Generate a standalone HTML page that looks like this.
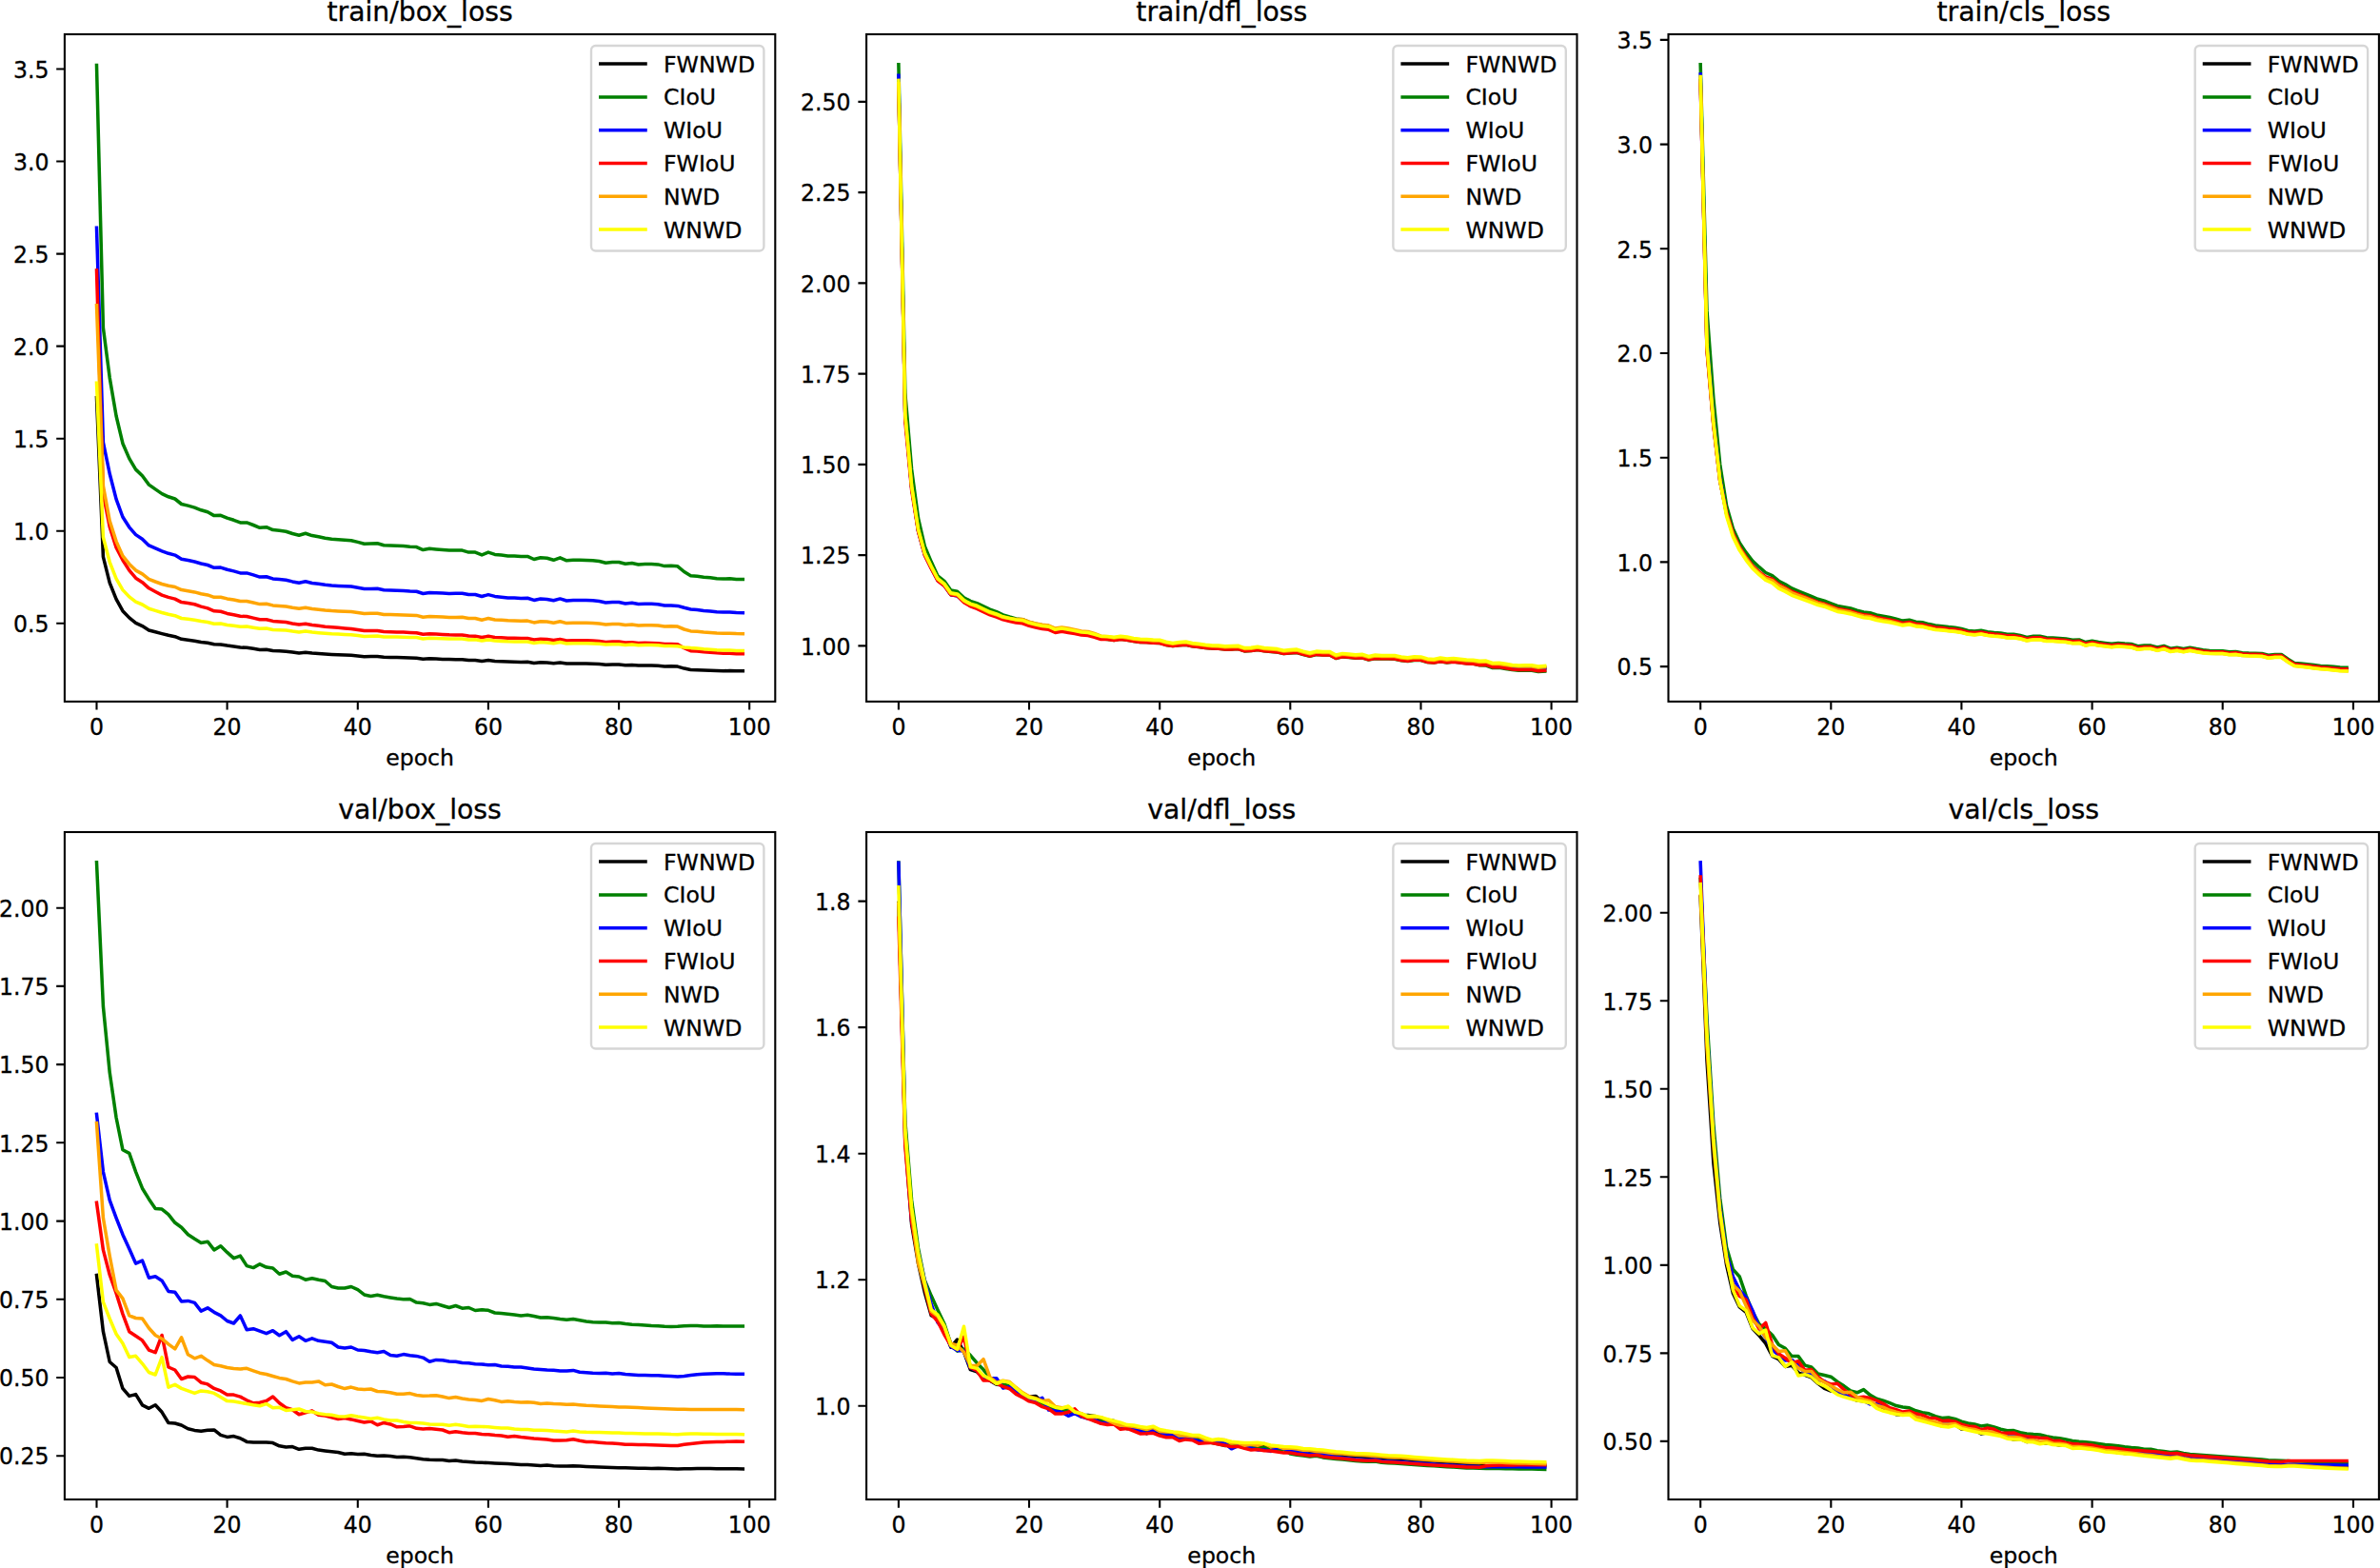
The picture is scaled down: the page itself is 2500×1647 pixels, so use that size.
<!DOCTYPE html>
<html lang="en"><head><meta charset="utf-8"><title>loss curves</title>
<style>html,body{margin:0;padding:0;background:#fff}body{width:2500px;height:1647px;overflow:hidden}svg{display:block}text{font-family:"DejaVu Sans","Liberation Sans",sans-serif;fill:#000;stroke:#000;stroke-width:0.3px}.t{font-size:23.6px}.T{font-size:28.3px}.c{fill:none;stroke-width:3.54;stroke-linejoin:round;stroke-linecap:square}.k{stroke:#000;stroke-width:2.1;fill:none}.l{stroke-width:3.54;stroke-linecap:square;fill:none}</style></head><body>
<svg width="2500" height="1647" viewBox="0 0 2500 1647">
<rect width="2500" height="1647" fill="#ffffff"/>
<g>
<clipPath id="c00"><rect x="67.9" y="36" width="746.4" height="700.9"/></clipPath>
<g clip-path="url(#c00)">
<polyline class="c" stroke="#000000" points="101.5,417.8 108.4,584.9 115.2,612.1 122.1,629.3 128.9,641.7 135.8,648.9 142.6,654.3 149.5,657.6 156.4,662 163.2,663.8 170.1,665.6 176.9,667.3 183.8,668.7 190.6,671.3 197.5,672.2 204.4,673.2 211.2,674.4 218.1,675.3 224.9,676.8 231.8,676.9 238.6,678.1 245.5,679 252.4,680.1 259.2,680.2 266.1,681.3 272.9,682.4 279.8,682.3 286.6,683.4 293.5,683.8 300.4,684.2 307.2,685.1 314.1,685.9 320.9,685.3 327.8,686.1 334.6,686.6 341.5,687.1 348.4,687.5 355.2,687.8 362.1,688 368.9,688.3 375.8,689 382.6,689.7 389.5,689.6 396.4,689.6 403.2,690.3 410.1,690.5 416.9,690.6 423.8,690.7 430.6,691 437.5,691.2 444.4,692.2 451.2,691.8 458.1,692.1 464.9,692.4 471.8,692.6 478.6,692.7 485.5,692.7 492.3,693.5 499.2,693.5 506.1,694.5 512.9,693.6 519.8,694.4 526.6,694.7 533.5,695 540.3,695.2 547.2,695.4 554.1,695.3 560.9,696.4 567.8,695.8 574.6,696.1 581.5,696.8 588.3,696 595.2,697.1 602.1,696.9 608.9,697 615.8,697.1 622.6,697.2 629.5,697.6 636.3,698.2 643.2,698 650.1,698.1 656.9,698.7 663.8,698.5 670.6,699.1 677.5,699 684.3,699 691.2,699.3 698.1,699.9 704.9,699.8 711.8,700.1 718.6,702.1 725.5,703.5 732.3,703.7 739.2,704 746.1,704.2 752.9,704.5 759.8,704.7 766.6,704.6 773.5,704.8 780.3,704.8"/>
<polyline class="c" stroke="#008000" points="101.5,68.5 108.4,344.2 115.2,396.6 122.1,437 128.9,465.7 135.8,481.6 142.6,493.1 149.5,499.7 156.4,509.1 163.2,513.9 170.1,518.6 176.9,521.8 183.8,524 190.6,529.5 197.5,531.1 204.4,533.1 211.2,535.8 218.1,537.8 224.9,541.6 231.8,541.3 238.6,544.1 245.5,546.3 252.4,548.9 259.2,548.9 266.1,551.5 272.9,554.3 279.8,553.7 286.6,556.6 293.5,557.3 300.4,558.2 307.2,560.5 314.1,562.2 320.9,560.3 327.8,562.6 334.6,563.8 341.5,565.2 348.4,566.2 355.2,566.7 362.1,567.2 368.9,567.7 375.8,569.4 382.6,571.2 389.5,570.9 396.4,570.7 403.2,572.7 410.1,573 416.9,573.3 423.8,573.6 430.6,574.2 437.5,574.6 444.4,577.6 451.2,576.3 458.1,576.9 464.9,577.5 471.8,578.1 478.6,578.1 485.5,578.1 492.3,580.1 499.2,580.1 506.1,582.9 512.9,580.1 519.8,582.4 526.6,583.1 533.5,583.9 540.3,584.1 547.2,584.6 554.1,584.4 560.9,587.5 567.8,585.7 574.6,586.3 581.5,588.3 588.3,585.8 595.2,588.8 602.1,588.3 608.9,588.3 615.8,588.4 622.6,588.7 629.5,589.5 636.3,591.3 643.2,590.5 650.1,590.5 656.9,592.3 663.8,591.4 670.6,592.9 677.5,592.5 684.3,592.5 691.2,592.9 698.1,594.6 704.9,594.2 711.8,594.8 718.6,600.5 725.5,604.7 732.3,605.2 739.2,606.2 746.1,606.8 752.9,607.7 759.8,608.1 766.6,607.8 773.5,608.4 780.3,608.4"/>
<polyline class="c" stroke="#0000ff" points="101.5,239.2 108.4,464.6 115.2,497.5 122.1,524.4 128.9,543 135.8,553.8 142.6,561.6 149.5,566.2 156.4,572.9 163.2,575.9 170.1,578.8 176.9,581.3 183.8,583.1 190.6,587.3 197.5,588.5 204.4,590 211.2,592 218.1,593.5 224.9,596.3 231.8,596.1 238.6,598.2 245.5,599.9 252.4,601.9 259.2,601.9 266.1,603.9 272.9,606.1 279.8,605.7 286.6,607.9 293.5,608.5 300.4,609.2 307.2,610.9 314.1,612.3 320.9,610.8 327.8,612.5 334.6,613.3 341.5,614.3 348.4,615 355.2,615.4 362.1,615.7 368.9,616.1 375.8,617.3 382.6,618.6 389.5,618.4 396.4,618.3 403.2,619.8 410.1,620 416.9,620.3 423.8,620.5 430.6,621 437.5,621.3 444.4,623.5 451.2,622.5 458.1,622.8 464.9,623.1 471.8,623.4 478.6,623.3 485.5,623.2 492.3,624.6 499.2,624.5 506.1,626.5 512.9,624.6 519.8,626.4 526.6,627.2 533.5,628 540.3,628 547.2,628.4 554.1,628.2 560.9,630.4 567.8,629 574.6,629.4 581.5,630.8 588.3,628.9 595.2,631 602.1,630.6 608.9,630.6 615.8,630.6 622.6,630.8 629.5,631.5 636.3,632.9 643.2,632.4 650.1,632.5 656.9,633.9 663.8,633.3 670.6,634.5 677.5,634.2 684.3,634.3 691.2,634.8 698.1,636.1 704.9,635.9 711.8,636.4 718.6,638.3 725.5,640 732.3,640.5 739.2,641.4 746.1,641.9 752.9,642.7 759.8,643.1 766.6,643 773.5,643.6 780.3,643.7"/>
<polyline class="c" stroke="#ff0000" points="101.5,283.9 108.4,518.9 115.2,553.4 122.1,575.2 128.9,588.2 135.8,599.1 142.6,607.2 149.5,611.7 156.4,617.8 163.2,621.5 170.1,625.1 176.9,627.4 183.8,629.1 190.6,632.6 197.5,633.6 204.4,634.8 211.2,637.1 218.1,638.9 224.9,641.8 231.8,642.3 238.6,644.4 245.5,645.8 252.4,647.3 259.2,647.5 266.1,649.1 272.9,650.8 279.8,650.7 286.6,652.4 293.5,652.9 300.4,653.6 307.2,655 314.1,656.1 320.9,655.3 327.8,656.6 334.6,657.3 341.5,658.2 348.4,658.8 355.2,659.3 362.1,659.9 368.9,660.4 375.8,661.5 382.6,662.6 389.5,662.5 396.4,662.5 403.2,663.5 410.1,663.7 416.9,663.9 423.8,664.1 430.6,664.4 437.5,664.7 444.4,666.2 451.2,665.7 458.1,666 464.9,666.4 471.8,666.8 478.6,666.9 485.5,667 492.3,668.1 499.2,668.2 506.1,669.6 512.9,668.3 519.8,669.4 526.6,669.8 533.5,670.2 540.3,670.3 547.2,670.6 554.1,670.6 560.9,672.1 567.8,671.2 574.6,671.6 581.5,672.6 588.3,671.4 595.2,672.9 602.1,672.7 608.9,672.7 615.8,672.8 622.6,673 629.5,673.5 636.3,674.4 643.2,674.1 650.1,674.1 656.9,675.1 663.8,674.7 670.6,675.5 677.5,675.3 684.3,675.4 691.2,675.7 698.1,676.5 704.9,676.4 711.8,676.8 718.6,680.7 725.5,683.7 732.3,684.1 739.2,684.8 746.1,685.2 752.9,685.8 759.8,686.2 766.6,686.2 773.5,686.7 780.3,686.8"/>
<polyline class="c" stroke="#ffa500" points="101.5,320.8 108.4,510.2 115.2,547 122.1,568.6 128.9,583.9 135.8,592.4 142.6,599.1 149.5,602.9 156.4,608.3 163.2,611 170.1,613.5 176.9,615.3 183.8,616.5 190.6,619.6 197.5,620.7 204.4,621.9 211.2,623.7 218.1,624.9 224.9,627.3 231.8,627.2 238.6,628.9 245.5,630.1 252.4,631.6 259.2,631.5 266.1,633 272.9,634.6 279.8,634.2 286.6,635.9 293.5,636.4 300.4,636.9 307.2,638.2 314.1,639.3 320.9,638.2 327.8,639.5 334.6,640.2 341.5,641 348.4,641.6 355.2,641.9 362.1,642.2 368.9,642.5 375.8,643.4 382.6,644.5 389.5,644.3 396.4,644.2 403.2,645.4 410.1,645.6 416.9,645.7 423.8,645.9 430.6,646.2 437.5,646.4 444.4,648.2 451.2,647.4 458.1,647.7 464.9,648.1 471.8,648.4 478.6,648.4 485.5,648.3 492.3,649.5 499.2,649.5 506.1,651.2 512.9,649.5 519.8,650.9 526.6,651.3 533.5,651.8 540.3,651.9 547.2,652.2 554.1,652.1 560.9,653.9 567.8,652.8 574.6,653.1 581.5,654.3 588.3,652.8 595.2,654.6 602.1,654.3 608.9,654.3 615.8,654.3 622.6,654.5 629.5,655 636.3,656 643.2,655.6 650.1,655.5 656.9,656.6 663.8,656.1 670.6,657 677.5,656.7 684.3,656.7 691.2,657 698.1,658 704.9,657.7 711.8,658.1 718.6,661 725.5,662.9 732.3,663.3 739.2,664 746.1,664.4 752.9,665 759.8,665.3 766.6,665.2 773.5,665.6 780.3,665.7"/>
<polyline class="c" stroke="#ffff00" points="101.5,402.3 108.4,564.3 115.2,590.3 122.1,607.8 128.9,619.6 135.8,626.9 142.6,632.1 149.5,635 156.4,639.3 163.2,641.4 170.1,643.5 176.9,645.3 183.8,646.7 190.6,649.5 197.5,650.3 204.4,651.2 211.2,652.5 218.1,653.5 224.9,655.3 231.8,655.1 238.6,656.5 245.5,657.3 252.4,658.3 259.2,658.1 266.1,659.2 272.9,660.3 279.8,660 286.6,661.4 293.5,661.7 300.4,662 307.2,663.1 314.1,663.9 320.9,663 327.8,664.1 334.6,664.7 341.5,665.3 348.4,665.8 355.2,666.1 362.1,666.4 368.9,666.7 375.8,667.5 382.6,668.4 389.5,668.2 396.4,668.1 403.2,668.9 410.1,669 416.9,669.1 423.8,669.2 430.6,669.4 437.5,669.6 444.4,670.9 451.2,670.3 458.1,670.5 464.9,670.8 471.8,671 478.6,671 485.5,670.9 492.3,671.9 499.2,671.8 506.1,673.1 512.9,671.9 519.8,673 526.6,673.4 533.5,673.8 540.3,673.9 547.2,674.1 554.1,674 560.9,675.4 567.8,674.6 574.6,674.9 581.5,675.8 588.3,674.6 595.2,676 602.1,675.7 608.9,675.7 615.8,675.7 622.6,675.9 629.5,676.3 636.3,677.1 643.2,676.7 650.1,676.7 656.9,677.5 663.8,677.1 670.6,677.8 677.5,677.6 684.3,677.6 691.2,677.8 698.1,678.5 704.9,678.4 711.8,678.7 718.6,679.9 725.5,680.6 732.3,681 739.2,681.7 746.1,682.2 752.9,682.8 759.8,683 766.6,683 773.5,683.4 780.3,683.5"/>
</g>
<path class="k" d="M101.5 736.9v8.7M238.6 736.9v8.7M375.8 736.9v8.7M512.9 736.9v8.7M650.1 736.9v8.7M787.2 736.9v8.7M67.9 654.8h-8.7M67.9 557.7h-8.7M67.9 460.7h-8.7M67.9 363.6h-8.7M67.9 266.6h-8.7M67.9 169.5h-8.7M67.9 72.5h-8.7"/>
<rect class="k" x="67.9" y="36" width="746.4" height="700.9"/>
<text class="t" text-anchor="middle" transform="translate(101.5 771.8) scale(1 1.07)">0</text>
<text class="t" text-anchor="middle" transform="translate(238.6 771.8) scale(1 1.07)">20</text>
<text class="t" text-anchor="middle" transform="translate(375.8 771.8) scale(1 1.07)">40</text>
<text class="t" text-anchor="middle" transform="translate(512.9 771.8) scale(1 1.07)">60</text>
<text class="t" text-anchor="middle" transform="translate(650.1 771.8) scale(1 1.07)">80</text>
<text class="t" text-anchor="middle" transform="translate(787.2 771.8) scale(1 1.07)">100</text>
<text class="t" text-anchor="end" transform="translate(51.4 664) scale(1 1.07)">0.5</text>
<text class="t" text-anchor="end" transform="translate(51.4 566.9) scale(1 1.07)">1.0</text>
<text class="t" text-anchor="end" transform="translate(51.4 469.9) scale(1 1.07)">1.5</text>
<text class="t" text-anchor="end" transform="translate(51.4 372.8) scale(1 1.07)">2.0</text>
<text class="t" text-anchor="end" transform="translate(51.4 275.8) scale(1 1.07)">2.5</text>
<text class="t" text-anchor="end" transform="translate(51.4 178.7) scale(1 1.07)">3.0</text>
<text class="t" text-anchor="end" transform="translate(51.4 81.7) scale(1 1.07)">3.5</text>
<text class="t" text-anchor="middle" x="441.1" y="804">epoch</text>
<text class="T" text-anchor="middle" x="441.1" y="22">train/box_loss</text>
<rect x="621" y="48" width="181.4" height="215.5" rx="4.7" ry="4.7" fill="#ffffff" fill-opacity="0.8" stroke="#cccccc" stroke-opacity="0.8" stroke-width="2.36"/>
<path class="l" stroke="#000000" d="M630.8 67.1h47.2"/>
<text class="t" x="697" y="75.6">FWNWD</text>
<path class="l" stroke="#008000" d="M630.8 101.9h47.2"/>
<text class="t" x="697" y="110.4">CIoU</text>
<path class="l" stroke="#0000ff" d="M630.8 136.7h47.2"/>
<text class="t" x="697" y="145.2">WIoU</text>
<path class="l" stroke="#ff0000" d="M630.8 171.4h47.2"/>
<text class="t" x="697" y="179.9">FWIoU</text>
<path class="l" stroke="#ffa500" d="M630.8 206.2h47.2"/>
<text class="t" x="697" y="214.7">NWD</text>
<path class="l" stroke="#ffff00" d="M630.8 241h47.2"/>
<text class="t" x="697" y="249.5">WNWD</text>
</g>
<g>
<clipPath id="c10"><rect x="910.1" y="36" width="746.4" height="700.9"/></clipPath>
<g clip-path="url(#c10)">
<polyline class="c" stroke="#000000" points="943.9,89.6 950.8,436.1 957.6,511.6 964.5,557.1 971.3,582.1 978.2,596.2 985,609.2 991.9,614.6 998.8,624.4 1005.6,625.5 1012.5,632 1019.3,635.7 1026.2,637.9 1033,641.1 1039.9,644.4 1046.8,646.6 1053.6,649.4 1060.5,651.1 1067.3,652.6 1074.2,653.3 1081,655.9 1087.9,657.6 1094.8,659.1 1101.6,659.8 1108.5,662.9 1115.3,661.7 1122.2,662.9 1129,664.1 1135.9,665.6 1142.8,666.1 1149.6,667.8 1156.5,670.1 1163.3,670.1 1170.2,671 1177,669.9 1183.9,670.8 1190.8,672.1 1197.6,672.9 1204.5,673.2 1211.3,673.7 1218.2,673.9 1225,675.9 1231.9,677 1238.8,676.2 1245.6,675.7 1252.5,677.2 1259.3,677.9 1266.2,678.9 1273,679.6 1279.9,679.8 1286.8,680.5 1293.6,680.3 1300.5,680 1307.3,682.3 1314.2,682 1321,680.9 1327.9,682.2 1334.7,682.8 1341.6,683.3 1348.5,685 1355.3,684.2 1362.2,683.9 1369,685.8 1375.9,687.5 1382.7,685.8 1389.6,686.4 1396.5,686.2 1403.3,689.8 1410.2,688.1 1417,688.7 1423.9,689.5 1430.7,689.1 1437.6,691.2 1444.5,689.9 1451.3,690.2 1458.2,690.2 1465,690.4 1471.9,691.8 1478.7,692.6 1485.6,691.5 1492.5,691.7 1499.3,693.7 1506.2,694.3 1513,692.9 1519.9,694 1526.7,693.2 1533.6,694.1 1540.5,694.9 1547.3,695 1554.2,696.2 1561,695.9 1567.9,698.3 1574.7,698.1 1581.6,699.2 1588.5,700.3 1595.3,700.9 1602.2,700.7 1609,700.7 1615.9,702 1622.7,701.5"/>
<polyline class="c" stroke="#008000" points="943.9,67.7 950.8,412.8 957.6,493 964.5,544.2 971.3,573.7 978.2,590.1 985,605 991.9,610.4 998.8,620.1 1005.6,621.2 1012.5,627.7 1019.3,631.4 1026.2,633.6 1033,636.9 1039.9,640.1 1046.8,642.7 1053.6,645.9 1060.5,648 1067.3,649.9 1074.2,650.7 1081,653.4 1087.9,655.2 1094.8,656.8 1101.6,657.6 1108.5,660.8 1115.3,659.8 1122.2,661 1129,662.4 1135.9,664 1142.8,665.3 1149.6,667.7 1156.5,670.7 1163.3,671.5 1170.2,672.4 1177,671.3 1183.9,672.2 1190.8,673.5 1197.6,674.4 1204.5,674.6 1211.3,675.2 1218.2,675.4 1225,677.4 1231.9,678.5 1238.8,677.7 1245.6,677.2 1252.5,678.8 1259.3,679.5 1266.2,680.4 1273,681.1 1279.9,681.3 1286.8,682.1 1293.6,681.9 1300.5,681.6 1307.3,683.9 1314.2,683.6 1321,682.5 1327.9,683.8 1334.7,684.4 1341.6,685 1348.5,686.6 1355.3,685.9 1362.2,685.5 1369,687.5 1375.9,689.2 1382.7,687.6 1389.6,688.1 1396.5,687.9 1403.3,691.5 1410.2,689.9 1417,690.4 1423.9,691.3 1430.7,690.9 1437.6,693 1444.5,691.7 1451.3,692 1458.2,692 1465,692.3 1471.9,693.7 1478.7,694.5 1485.6,693.4 1492.5,693.6 1499.3,695.6 1506.2,696.1 1513,694.8 1519.9,695.9 1526.7,695.1 1533.6,696 1540.5,696.8 1547.3,697 1554.2,698.7 1561,699 1567.9,701.5 1574.7,701.3 1581.6,702.5 1588.5,703.6 1595.3,704.2 1602.2,704.1 1609,704.2 1615.9,705.5 1622.7,705.1"/>
<polyline class="c" stroke="#0000ff" points="943.9,79.3 950.8,436.5 957.6,512 964.5,557.5 971.3,582.5 978.2,596.6 985,609.6 991.9,615 998.8,624.7 1005.6,625.9 1012.5,632.3 1019.3,636 1026.2,638.3 1033,641.5 1039.9,644.8 1046.8,646.9 1053.6,649.8 1060.5,651.5 1067.3,653 1074.2,653.7 1081,656.3 1087.9,658 1094.8,659.5 1101.6,660.2 1108.5,663.3 1115.3,662.1 1122.2,663.3 1129,664.5 1135.9,666 1142.8,666.5 1149.6,668.2 1156.5,670.4 1163.3,670.5 1170.2,671.4 1177,670.3 1183.9,671.1 1190.8,672.5 1197.6,673.3 1204.5,673.6 1211.3,674.1 1218.2,674.3 1225,676.3 1231.9,677.4 1238.8,676.5 1245.6,676.1 1252.5,677.6 1259.3,678.3 1266.2,679.3 1273,680 1279.9,680.2 1286.8,680.9 1293.6,680.7 1300.5,680.4 1307.3,682.7 1314.2,682.4 1321,681.3 1327.9,682.6 1334.7,683.2 1341.6,683.7 1348.5,685.3 1355.3,684.6 1362.2,684.2 1369,686.2 1375.9,687.9 1382.7,686.2 1389.6,686.8 1396.5,686.6 1403.3,690.2 1410.2,688.5 1417,689.1 1423.9,689.9 1430.7,689.5 1437.6,691.6 1444.5,690.3 1451.3,690.6 1458.2,690.6 1465,690.8 1471.9,692.2 1478.7,693 1485.6,691.9 1492.5,692.1 1499.3,694.1 1506.2,694.6 1513,693.2 1519.9,694.3 1526.7,693.6 1533.6,694.5 1540.5,695.2 1547.3,695.4 1554.2,696.5 1561,696.3 1567.9,698.7 1574.7,698.5 1581.6,699.6 1588.5,700.7 1595.3,701.2 1602.2,701.1 1609,701.1 1615.9,702.4 1622.7,701.8"/>
<polyline class="c" stroke="#ff0000" points="943.9,88.9 950.8,442.2 957.6,514.7 964.5,558.3 971.3,583.1 978.2,597.1 985,610 991.9,615.3 998.8,624.8 1005.6,625.8 1012.5,632.7 1019.3,636.8 1026.2,639.3 1033,642.6 1039.9,645.9 1046.8,648.1 1053.6,650.9 1060.5,652.6 1067.3,654.1 1074.2,654.8 1081,657.4 1087.9,659.1 1094.8,660.6 1101.6,661.3 1108.5,664.4 1115.3,663.2 1122.2,664.4 1129,665.6 1135.9,667.1 1142.8,667.6 1149.6,669.4 1156.5,671.6 1163.3,671.6 1170.2,672.5 1177,671.4 1183.9,672.3 1190.8,673.6 1197.6,674.5 1204.5,674.7 1211.3,675.3 1218.2,675.5 1225,677.5 1231.9,678.6 1238.8,677.7 1245.6,677.2 1252.5,678.8 1259.3,679.5 1266.2,680.4 1273,681.1 1279.9,681.3 1286.8,682.1 1293.6,681.9 1300.5,681.6 1307.3,683.8 1314.2,683.6 1321,682.5 1327.9,683.8 1334.7,684.3 1341.6,684.9 1348.5,686.5 1355.3,685.8 1362.2,685.4 1369,687.4 1375.9,689 1382.7,687.4 1389.6,688 1396.5,687.8 1403.3,691.4 1410.2,689.7 1417,690.3 1423.9,691.1 1430.7,690.7 1437.6,692.8 1444.5,691.5 1451.3,691.8 1458.2,691.8 1465,692 1471.9,693.4 1478.7,694.2 1485.6,693.1 1492.5,693.3 1499.3,695.4 1506.2,696 1513,694.7 1519.9,695.8 1526.7,695.2 1533.6,696.1 1540.5,697 1547.3,697.2 1554.2,698.4 1561,698.3 1567.9,700.7 1574.7,700.6 1581.6,701.7 1588.5,702.9 1595.3,703.5 1602.2,703.4 1609,703.4 1615.9,704.8 1622.7,704.3"/>
<polyline class="c" stroke="#ffa500" points="943.9,87.7 950.8,435.3 957.6,510.9 964.5,556.4 971.3,581.4 978.2,595.5 985,608.4 991.9,613.9 998.8,623.6 1005.6,624.7 1012.5,631.2 1019.3,634.9 1026.2,637.1 1033,640.3 1039.9,643.6 1046.8,645.7 1053.6,648.6 1060.5,649.6 1067.3,650.5 1074.2,650.6 1081,653.1 1087.9,654.9 1094.8,656.3 1101.6,657.1 1108.5,660.1 1115.3,659 1122.2,660.1 1129,661.4 1135.9,662.9 1142.8,663.4 1149.6,665.5 1156.5,668.2 1163.3,668.7 1170.2,670.1 1177,669 1183.9,669.9 1190.8,671.2 1197.6,672.1 1204.5,672.3 1211.3,672.9 1218.2,673.1 1225,675.1 1231.9,676.2 1238.8,675.3 1245.6,674.8 1252.5,676.4 1259.3,677.1 1266.2,678 1273,678.7 1279.9,678.9 1286.8,679.7 1293.6,679.5 1300.5,679.2 1307.3,681.4 1314.2,681.2 1321,680.1 1327.9,681.4 1334.7,681.9 1341.6,682.5 1348.5,684.1 1355.3,683.4 1362.2,683 1369,685 1375.9,686.7 1382.7,685 1389.6,685.6 1396.5,685.4 1403.3,689 1410.2,687.3 1417,687.9 1423.9,688.7 1430.7,688.3 1437.6,690.4 1444.5,689.1 1451.3,689.4 1458.2,689.4 1465,689.6 1471.9,691 1478.7,691.8 1485.6,690.7 1492.5,690.9 1499.3,692.9 1506.2,693.5 1513,692.1 1519.9,693.2 1526.7,692.4 1533.6,693.3 1540.5,694.1 1547.3,694.3 1554.2,695.4 1561,695.2 1567.9,697.6 1574.7,697.4 1581.6,698.4 1588.5,699.6 1595.3,700.1 1602.2,699.9 1609,699.9 1615.9,701.2 1622.7,700.7"/>
<polyline class="c" stroke="#ffff00" points="943.9,84.4 950.8,434.6 957.6,510.1 964.5,555.6 971.3,580.6 978.2,594.7 985,607.7 991.9,613.1 998.8,622.8 1005.6,623.9 1012.5,630.4 1019.3,634.1 1026.2,636.3 1033,639.5 1039.9,642.8 1046.8,645 1053.6,647.8 1060.5,649.5 1067.3,651 1074.2,651.7 1081,654.3 1087.9,656 1094.8,657.5 1101.6,658.2 1108.5,661.3 1115.3,660.1 1122.2,661.3 1129,662.5 1135.9,664 1142.8,664.5 1149.6,666.2 1156.5,668.4 1163.3,668.5 1170.2,669.3 1177,668.2 1183.9,669.1 1190.8,670.4 1197.6,671.3 1204.5,671.5 1211.3,672.1 1218.2,672.3 1225,674.2 1231.9,675.4 1238.8,674.5 1245.6,674 1252.5,675.5 1259.3,676.2 1266.2,677.2 1273,677.9 1279.9,678.1 1286.8,678.8 1293.6,678.6 1300.5,678.3 1307.3,680.6 1314.2,680.3 1321,679.2 1327.9,680.5 1334.7,681 1341.6,681.6 1348.5,683.2 1355.3,682.4 1362.2,682.1 1369,684.1 1375.9,685.7 1382.7,684.1 1389.6,684.6 1396.5,684.4 1403.3,688 1410.2,686.4 1417,686.9 1423.9,687.7 1430.7,687.3 1437.6,689.4 1444.5,688.1 1451.3,688.4 1458.2,688.4 1465,688.6 1471.9,690 1478.7,690.8 1485.6,689.7 1492.5,689.9 1499.3,691.9 1506.2,692.4 1513,691 1519.9,692.1 1526.7,691.4 1533.6,692.2 1540.5,693 1547.3,693.2 1554.2,694.3 1561,694.1 1567.9,696.5 1574.7,696.3 1581.6,697.3 1588.5,698.4 1595.3,699 1602.2,698.8 1609,698.8 1615.9,700.1 1622.7,699.5"/>
</g>
<path class="k" d="M943.9 736.9v8.7M1081 736.9v8.7M1218.2 736.9v8.7M1355.3 736.9v8.7M1492.5 736.9v8.7M1629.6 736.9v8.7M910.1 678.4h-8.7M910.1 583.1h-8.7M910.1 487.9h-8.7M910.1 392.6h-8.7M910.1 297.4h-8.7M910.1 202.1h-8.7M910.1 106.9h-8.7"/>
<rect class="k" x="910.1" y="36" width="746.4" height="700.9"/>
<text class="t" text-anchor="middle" transform="translate(943.9 771.8) scale(1 1.07)">0</text>
<text class="t" text-anchor="middle" transform="translate(1081 771.8) scale(1 1.07)">20</text>
<text class="t" text-anchor="middle" transform="translate(1218.2 771.8) scale(1 1.07)">40</text>
<text class="t" text-anchor="middle" transform="translate(1355.3 771.8) scale(1 1.07)">60</text>
<text class="t" text-anchor="middle" transform="translate(1492.5 771.8) scale(1 1.07)">80</text>
<text class="t" text-anchor="middle" transform="translate(1629.6 771.8) scale(1 1.07)">100</text>
<text class="t" text-anchor="end" transform="translate(893.6 687.6) scale(1 1.07)">1.00</text>
<text class="t" text-anchor="end" transform="translate(893.6 592.4) scale(1 1.07)">1.25</text>
<text class="t" text-anchor="end" transform="translate(893.6 497.1) scale(1 1.07)">1.50</text>
<text class="t" text-anchor="end" transform="translate(893.6 401.8) scale(1 1.07)">1.75</text>
<text class="t" text-anchor="end" transform="translate(893.6 306.6) scale(1 1.07)">2.00</text>
<text class="t" text-anchor="end" transform="translate(893.6 211.3) scale(1 1.07)">2.25</text>
<text class="t" text-anchor="end" transform="translate(893.6 116.1) scale(1 1.07)">2.50</text>
<text class="t" text-anchor="middle" x="1283.3" y="804">epoch</text>
<text class="T" text-anchor="middle" x="1283.3" y="22">train/dfl_loss</text>
<rect x="1463.4" y="48" width="181.4" height="215.5" rx="4.7" ry="4.7" fill="#ffffff" fill-opacity="0.8" stroke="#cccccc" stroke-opacity="0.8" stroke-width="2.36"/>
<path class="l" stroke="#000000" d="M1473.2 67.1h47.2"/>
<text class="t" x="1539.4" y="75.6">FWNWD</text>
<path class="l" stroke="#008000" d="M1473.2 101.9h47.2"/>
<text class="t" x="1539.4" y="110.4">CIoU</text>
<path class="l" stroke="#0000ff" d="M1473.2 136.7h47.2"/>
<text class="t" x="1539.4" y="145.2">WIoU</text>
<path class="l" stroke="#ff0000" d="M1473.2 171.4h47.2"/>
<text class="t" x="1539.4" y="179.9">FWIoU</text>
<path class="l" stroke="#ffa500" d="M1473.2 206.2h47.2"/>
<text class="t" x="1539.4" y="214.7">NWD</text>
<path class="l" stroke="#ffff00" d="M1473.2 241h47.2"/>
<text class="t" x="1539.4" y="249.5">WNWD</text>
</g>
<g>
<clipPath id="c20"><rect x="1752.5" y="36" width="746.4" height="700.9"/></clipPath>
<g clip-path="url(#c20)">
<polyline class="c" stroke="#000000" points="1786.2,84.7 1793,366.1 1799.9,446 1806.7,504.9 1813.6,539.2 1820.4,561.3 1827.3,575.8 1834.1,586.1 1841,595.1 1847.9,601.6 1854.7,607 1861.6,609.5 1868.4,615 1875.3,618.4 1882.1,622.5 1889,625.2 1895.9,627.9 1902.7,630.6 1909.6,633.3 1916.4,635.1 1923.3,637.6 1930.1,640.2 1937,641.5 1943.9,642.8 1950.7,644.8 1957.6,646.6 1964.4,647.3 1971.3,649.4 1978.1,650.6 1985,651.8 1991.9,653.4 1998.7,655.2 2005.6,654.2 2012.4,656.1 2019.3,656.6 2026.1,658.3 2033,659.8 2039.9,660.2 2046.7,661.1 2053.6,661.7 2060.4,662.8 2067.3,664.7 2074.1,665.3 2081,664.5 2087.9,665.9 2094.7,666.8 2101.6,667.3 2108.4,668.5 2115.3,668.5 2122.1,669.6 2129,671.5 2135.9,670.4 2142.7,670.4 2149.6,672 2156.4,672.1 2163.3,672.6 2170.1,673.1 2177,674.3 2183.9,674 2190.7,676.7 2197.6,675.4 2204.4,676.7 2211.3,677.5 2218.1,678.3 2225,677.6 2231.9,678.1 2238.7,678.6 2245.6,680.8 2252.4,680.2 2259.3,680.1 2266.1,682 2273,680.4 2279.9,683.1 2286.7,682 2293.6,683.4 2300.4,682.1 2307.3,683.4 2314.1,684.6 2321,685.1 2327.9,685.4 2334.7,685.4 2341.6,686.5 2348.4,686.2 2355.3,687.4 2362.1,687.8 2369,687.9 2375.9,688.1 2382.7,689.9 2389.6,689.2 2396.4,689.1 2403.3,694 2410.1,698.2 2417,698.9 2423.9,699.7 2430.7,700.5 2437.6,701.4 2444.4,701.9 2451.3,702.5 2458.1,703.2 2465,703.4"/>
<polyline class="c" stroke="#008000" points="1786.2,67.8 1793,326.4 1799.9,418.8 1806.7,487.7 1813.6,531.3 1820.4,555.3 1827.3,570.2 1834.1,580.4 1841,589.3 1847.9,595.7 1854.7,601.5 1861.6,604.6 1868.4,610.2 1875.3,613.8 1882.1,618 1889,620.8 1895.9,623.6 1902.7,626.5 1909.6,629.3 1916.4,631.2 1923.3,633.8 1930.1,636.4 1937,637.7 1943.9,639 1950.7,641.1 1957.6,643 1964.4,643.8 1971.3,645.9 1978.1,647.2 1985,648.4 1991.9,650.2 1998.7,652.1 2005.6,651.2 2012.4,653.2 2019.3,653.8 2026.1,655.6 2033,657.1 2039.9,657.7 2046.7,658.6 2053.6,659.3 2060.4,660.5 2067.3,662.4 2074.1,663 2081,662.3 2087.9,663.7 2094.7,664.6 2101.6,665.1 2108.4,666.3 2115.3,666.3 2122.1,667.4 2129,669.4 2135.9,668.3 2142.7,668.3 2149.6,669.8 2156.4,670 2163.3,670.5 2170.1,671 2177,672.2 2183.9,671.9 2190.7,674.6 2197.6,673.3 2204.4,674.6 2211.3,675.4 2218.1,676.3 2225,675.5 2231.9,676.1 2238.7,676.5 2245.6,678.8 2252.4,678.1 2259.3,678.1 2266.1,680 2273,678.4 2279.9,681.2 2286.7,680.2 2293.6,681.5 2300.4,680.2 2307.3,681.6 2314.1,682.8 2321,683.4 2327.9,683.7 2334.7,683.7 2341.6,684.8 2348.4,684.5 2355.3,685.7 2362.1,686.1 2369,686.2 2375.9,686.4 2382.7,688.2 2389.6,687.5 2396.4,687.4 2403.3,692.3 2410.1,696.4 2417,697.1 2423.9,697.8 2430.7,698.6 2437.6,699.4 2444.4,699.8 2451.3,700.3 2458.1,701 2465,701.2"/>
<polyline class="c" stroke="#0000ff" points="1786.2,77.9 1793,359.3 1799.9,440.7 1806.7,501.9 1813.6,538.8 1820.4,561 1827.3,575.4 1834.1,585.8 1841,594.8 1847.9,601.3 1854.7,606.6 1861.6,609.1 1868.4,614.5 1875.3,618 1882.1,622.1 1889,624.8 1895.9,627.5 1902.7,630.3 1909.6,633 1916.4,634.8 1923.3,637.3 1930.1,639.9 1937,641.2 1943.9,642.4 1950.7,644.5 1957.6,646.3 1964.4,647 1971.3,649.1 1978.1,650.3 1985,651.5 1991.9,653.1 1998.7,654.9 2005.6,653.9 2012.4,655.8 2019.3,656.4 2026.1,658.1 2033,659.5 2039.9,660 2046.7,660.9 2053.6,661.5 2060.4,662.6 2067.3,664.5 2074.1,665 2081,664.3 2087.9,665.7 2094.7,666.5 2101.6,667.1 2108.4,668.2 2115.3,668.2 2122.1,669.4 2129,671.3 2135.9,670.2 2142.7,670.2 2149.6,671.8 2156.4,671.9 2163.3,672.4 2170.1,672.9 2177,674.1 2183.9,673.8 2190.7,676.5 2197.6,675.2 2204.4,676.5 2211.3,677.3 2218.1,678.1 2225,677.4 2231.9,677.9 2238.7,678.4 2245.6,680.6 2252.4,680 2259.3,679.9 2266.1,681.8 2273,680.2 2279.9,682.9 2286.7,681.8 2293.6,683.2 2300.4,681.9 2307.3,683.2 2314.1,684.4 2321,685 2327.9,685.2 2334.7,685.2 2341.6,686.3 2348.4,686 2355.3,687.2 2362.1,687.6 2369,687.7 2375.9,687.9 2382.7,689.7 2389.6,689 2396.4,689 2403.3,693.9 2410.1,698 2417,698.7 2423.9,699.5 2430.7,700.3 2437.6,701.2 2444.4,701.7 2451.3,702.3 2458.1,703 2465,703.2"/>
<polyline class="c" stroke="#ff0000" points="1786.2,86.9 1793,368.1 1799.9,447.3 1806.7,505.2 1813.6,537.9 1820.4,560.2 1827.3,574.8 1834.1,585.1 1841,594.2 1847.9,600.7 1854.7,605.9 1861.6,608.2 1868.4,613.6 1875.3,617.2 1882.1,621.2 1889,624 1895.9,626.8 1902.7,629.6 1909.6,632.4 1916.4,634.2 1923.3,636.7 1930.1,639.3 1937,640.6 1943.9,641.8 1950.7,643.9 1957.6,645.6 1964.4,646.4 1971.3,648.5 1978.1,649.7 1985,650.9 1991.9,652.5 1998.7,654.4 2005.6,653.4 2012.4,655.3 2019.3,655.9 2026.1,657.6 2033,659 2039.9,659.5 2046.7,660.4 2053.6,661 2060.4,662.1 2067.3,664 2074.1,664.6 2081,663.9 2087.9,665.2 2094.7,666.1 2101.6,666.7 2108.4,667.8 2115.3,667.8 2122.1,668.9 2129,670.9 2135.9,669.8 2142.7,669.8 2149.6,671.3 2156.4,671.5 2163.3,672 2170.1,672.5 2177,673.7 2183.9,673.3 2190.7,676.1 2197.6,674.8 2204.4,676.1 2211.3,676.9 2218.1,677.7 2225,677 2231.9,677.5 2238.7,678 2245.6,680.2 2252.4,679.6 2259.3,679.5 2266.1,681.4 2273,679.8 2279.9,682.5 2286.7,681.5 2293.6,682.8 2300.4,681.5 2307.3,682.8 2314.1,684 2321,684.6 2327.9,684.8 2334.7,684.8 2341.6,686 2348.4,685.6 2355.3,686.8 2362.1,687.3 2369,687.3 2375.9,687.5 2382.7,689.4 2389.6,688.6 2396.4,688.6 2403.3,693.5 2410.1,697.6 2417,698.4 2423.9,699.1 2430.7,699.9 2437.6,700.8 2444.4,701.3 2451.3,701.9 2458.1,702.6 2465,702.8"/>
<polyline class="c" stroke="#ffa500" points="1786.2,82.5 1793,365.9 1799.9,446 1806.7,504.8 1813.6,540.1 1820.4,562 1827.3,576.1 1834.1,586.4 1841,595.5 1847.9,602 1854.7,607.3 1861.6,609.7 1868.4,615.1 1875.3,618.6 1882.1,622.6 1889,625.3 1895.9,628 1902.7,630.7 1909.6,633.4 1916.4,635.3 1923.3,637.8 1930.1,640.5 1937,641.8 1943.9,643.1 1950.7,645.2 1957.6,647 1964.4,647.8 1971.3,649.9 1978.1,651.3 1985,652.5 1991.9,654.2 1998.7,656.1 2005.6,655.2 2012.4,657.1 2019.3,657.7 2026.1,659.5 2033,661 2039.9,661.5 2046.7,662.4 2053.6,663.1 2060.4,664.2 2067.3,666.1 2074.1,666.6 2081,665.9 2087.9,667.2 2094.7,668 2101.6,668.6 2108.4,669.7 2115.3,669.7 2122.1,670.8 2129,672.8 2135.9,671.7 2142.7,671.7 2149.6,673.2 2156.4,673.3 2163.3,673.8 2170.1,674.3 2177,675.5 2183.9,675.2 2190.7,677.9 2197.6,676.6 2204.4,677.9 2211.3,678.6 2218.1,679.5 2225,678.8 2231.9,679.3 2238.7,679.7 2245.6,682 2252.4,681.3 2259.3,681.2 2266.1,683.1 2273,681.5 2279.9,684.2 2286.7,683.1 2293.6,684.5 2300.4,683.1 2307.3,684.5 2314.1,685.6 2321,686.2 2327.9,686.4 2334.7,686.4 2341.6,687.5 2348.4,687.2 2355.3,688.4 2362.1,688.8 2369,688.9 2375.9,689.2 2382.7,691 2389.6,690.3 2396.4,690.3 2403.3,695.2 2410.1,699.3 2417,700.1 2423.9,700.8 2430.7,701.7 2437.6,702.6 2444.4,703.1 2451.3,703.7 2458.1,704.4 2465,704.7"/>
<polyline class="c" stroke="#ffff00" points="1786.2,80.5 1793,361.5 1799.9,442.9 1806.7,504.1 1813.6,542.3 1820.4,564 1827.3,578.1 1834.1,588.3 1841,597.2 1847.9,603.6 1854.7,609.4 1861.6,612.5 1868.4,618.1 1875.3,621.4 1882.1,625.3 1889,627.8 1895.9,630.4 1902.7,632.9 1909.6,635.5 1916.4,637.2 1923.3,639.8 1930.1,642.4 1937,643.6 1943.9,644.9 1950.7,646.9 1957.6,648.7 1964.4,649.5 1971.3,651.5 1978.1,652.8 1985,653.8 1991.9,655.4 1998.7,657.1 2005.6,656 2012.4,657.9 2019.3,658.4 2026.1,660.1 2033,661.5 2039.9,661.9 2046.7,662.8 2053.6,663.4 2060.4,664.4 2067.3,666.3 2074.1,666.9 2081,666.1 2087.9,667.4 2094.7,668.3 2101.6,668.8 2108.4,669.9 2115.3,669.9 2122.1,671 2129,673 2135.9,671.9 2142.7,671.9 2149.6,673.4 2156.4,673.5 2163.3,674.1 2170.1,674.5 2177,675.7 2183.9,675.4 2190.7,678.1 2197.6,676.8 2204.4,678.1 2211.3,678.9 2218.1,679.7 2225,679 2231.9,679.5 2238.7,680 2245.6,682.2 2252.4,681.5 2259.3,681.5 2266.1,683.4 2273,681.7 2279.9,684.5 2286.7,683.4 2293.6,684.7 2300.4,683.4 2307.3,684.7 2314.1,685.9 2321,686.4 2327.9,686.6 2334.7,686.6 2341.6,687.7 2348.4,687.4 2355.3,688.6 2362.1,689 2369,689.2 2375.9,689.4 2382.7,691.2 2389.6,690.5 2396.4,690.5 2403.3,695.4 2410.1,699.5 2417,700.3 2423.9,701 2430.7,701.9 2437.6,702.8 2444.4,703.3 2451.3,703.9 2458.1,704.7 2465,704.9"/>
</g>
<path class="k" d="M1786.2 736.9v8.7M1923.3 736.9v8.7M2060.4 736.9v8.7M2197.6 736.9v8.7M2334.7 736.9v8.7M2471.9 736.9v8.7M1752.5 700.1h-8.7M1752.5 590.4h-8.7M1752.5 480.7h-8.7M1752.5 371h-8.7M1752.5 261.3h-8.7M1752.5 151.6h-8.7M1752.5 41.9h-8.7"/>
<rect class="k" x="1752.5" y="36" width="746.4" height="700.9"/>
<text class="t" text-anchor="middle" transform="translate(1786.2 771.8) scale(1 1.07)">0</text>
<text class="t" text-anchor="middle" transform="translate(1923.3 771.8) scale(1 1.07)">20</text>
<text class="t" text-anchor="middle" transform="translate(2060.4 771.8) scale(1 1.07)">40</text>
<text class="t" text-anchor="middle" transform="translate(2197.6 771.8) scale(1 1.07)">60</text>
<text class="t" text-anchor="middle" transform="translate(2334.7 771.8) scale(1 1.07)">80</text>
<text class="t" text-anchor="middle" transform="translate(2471.9 771.8) scale(1 1.07)">100</text>
<text class="t" text-anchor="end" transform="translate(1736 709.3) scale(1 1.07)">0.5</text>
<text class="t" text-anchor="end" transform="translate(1736 599.6) scale(1 1.07)">1.0</text>
<text class="t" text-anchor="end" transform="translate(1736 489.9) scale(1 1.07)">1.5</text>
<text class="t" text-anchor="end" transform="translate(1736 380.2) scale(1 1.07)">2.0</text>
<text class="t" text-anchor="end" transform="translate(1736 270.5) scale(1 1.07)">2.5</text>
<text class="t" text-anchor="end" transform="translate(1736 160.8) scale(1 1.07)">3.0</text>
<text class="t" text-anchor="end" transform="translate(1736 51.1) scale(1 1.07)">3.5</text>
<text class="t" text-anchor="middle" x="2125.7" y="804">epoch</text>
<text class="T" text-anchor="middle" x="2125.7" y="22">train/cls_loss</text>
<rect x="2305.7" y="48" width="181.4" height="215.5" rx="4.7" ry="4.7" fill="#ffffff" fill-opacity="0.8" stroke="#cccccc" stroke-opacity="0.8" stroke-width="2.36"/>
<path class="l" stroke="#000000" d="M2315.5 67.1h47.2"/>
<text class="t" x="2381.7" y="75.6">FWNWD</text>
<path class="l" stroke="#008000" d="M2315.5 101.9h47.2"/>
<text class="t" x="2381.7" y="110.4">CIoU</text>
<path class="l" stroke="#0000ff" d="M2315.5 136.7h47.2"/>
<text class="t" x="2381.7" y="145.2">WIoU</text>
<path class="l" stroke="#ff0000" d="M2315.5 171.4h47.2"/>
<text class="t" x="2381.7" y="179.9">FWIoU</text>
<path class="l" stroke="#ffa500" d="M2315.5 206.2h47.2"/>
<text class="t" x="2381.7" y="214.7">NWD</text>
<path class="l" stroke="#ffff00" d="M2315.5 241h47.2"/>
<text class="t" x="2381.7" y="249.5">WNWD</text>
</g>
<g>
<clipPath id="c01"><rect x="67.9" y="874" width="746.4" height="701"/></clipPath>
<g clip-path="url(#c01)">
<polyline class="c" stroke="#000000" points="101.5,1339.5 108.4,1398.7 115.2,1430.5 122.1,1436.5 128.9,1458.4 135.8,1466.4 142.6,1464.6 149.5,1475.8 156.4,1479.3 163.2,1475.8 170.1,1483.3 176.9,1494.5 183.8,1495 190.6,1497 197.5,1500.7 204.4,1502.4 211.2,1503.2 218.1,1502.2 224.9,1501.9 231.8,1507.4 238.6,1509.4 245.5,1508.6 252.4,1510.7 259.2,1514.4 266.1,1514.9 272.9,1514.9 279.8,1515.1 286.6,1515.6 293.5,1518.8 300.4,1520.1 307.2,1519.6 314.1,1522.3 320.9,1521.2 327.8,1521.2 334.6,1523.1 341.5,1524 348.4,1524.8 355.2,1525.5 362.1,1527.3 368.9,1526.7 375.8,1527.5 382.6,1527.3 389.5,1528.6 396.4,1529.2 403.2,1529 410.1,1529.4 416.9,1530.5 423.8,1530.2 430.6,1530.7 437.5,1531.7 444.4,1532.7 451.2,1533.2 458.1,1533.4 464.9,1533.6 471.8,1534.4 478.6,1534 485.5,1535.1 492.3,1535.5 499.2,1536.1 506.1,1536.3 512.9,1536.5 519.8,1536.9 526.6,1537.2 533.5,1537.6 540.3,1538 547.2,1538.4 554.1,1538.6 560.9,1539 567.8,1539.5 574.6,1539.1 581.5,1539.7 588.3,1539.9 595.2,1539.9 602.1,1539.7 608.9,1540.1 615.8,1540.5 622.6,1540.8 629.5,1541.1 636.3,1541.3 643.2,1541.5 650.1,1541.7 656.9,1541.8 663.8,1542 670.6,1542.2 677.5,1542.3 684.3,1542.4 691.2,1542.2 698.1,1542.4 704.9,1542.7 711.8,1542.9 718.6,1542.8 725.5,1542.7 732.3,1542.6 739.2,1542.6 746.1,1542.6 752.9,1542.7 759.8,1542.7 766.6,1542.8 773.5,1542.8 780.3,1542.9"/>
<polyline class="c" stroke="#008000" points="101.5,905.8 108.4,1057 115.2,1126.3 122.1,1174 128.9,1207.7 135.8,1211.4 142.6,1230.8 149.5,1248.2 156.4,1259.4 163.2,1269.4 170.1,1270.1 176.9,1275.6 183.8,1284.3 190.6,1289.3 197.5,1296.7 204.4,1301.2 211.2,1305.4 218.1,1304.2 224.9,1312.9 231.8,1308.7 238.6,1315.4 245.5,1321.6 252.4,1319.1 259.2,1329.6 266.1,1331.6 272.9,1327.8 279.8,1331.1 286.6,1332 293.5,1338.3 300.4,1336 307.2,1340.3 314.1,1341 320.9,1344.2 327.8,1342.7 334.6,1344.2 341.5,1345.5 348.4,1351.5 355.2,1353 362.1,1353 368.9,1351.5 375.8,1354.7 382.6,1359.9 389.5,1361.4 396.4,1360.3 403.2,1361.8 410.1,1362.9 416.9,1364.1 423.8,1364.7 430.6,1364.5 437.5,1368.1 444.4,1368.7 451.2,1370.4 458.1,1369.4 464.9,1371.5 471.8,1373.5 478.6,1371.5 485.5,1374.2 492.3,1373.5 499.2,1376.5 506.1,1375.8 512.9,1376.3 519.8,1379 526.6,1379.6 533.5,1380.2 540.3,1381.1 547.2,1381.9 554.1,1381.3 560.9,1382.5 567.8,1384 574.6,1383.8 581.5,1384.4 588.3,1385.5 595.2,1386.3 602.1,1385.5 608.9,1386.7 615.8,1387.9 622.6,1388.8 629.5,1389 636.3,1389.1 643.2,1389.8 650.1,1389.5 656.9,1390.6 663.8,1391.2 670.6,1391.4 677.5,1391.9 684.3,1392.5 691.2,1392.7 698.1,1393.2 704.9,1393.4 711.8,1393.2 718.6,1392.8 725.5,1392.4 732.3,1392.4 739.2,1392.9 746.1,1393 752.9,1392.8 759.8,1392.9 766.6,1393 773.5,1393 780.3,1393"/>
<polyline class="c" stroke="#0000ff" points="101.5,1170.4 108.4,1230.8 115.2,1260.7 122.1,1279.3 128.9,1296.7 135.8,1311.7 142.6,1327.1 149.5,1324.1 156.4,1342.2 163.2,1340.8 170.1,1345.2 176.9,1356.4 183.8,1357.2 190.6,1366.9 197.5,1366.4 204.4,1368.4 211.2,1377.1 218.1,1373.8 224.9,1378.3 231.8,1381.8 238.6,1387.5 245.5,1390 252.4,1382 259.2,1396.7 266.1,1395.7 272.9,1398.2 279.8,1400.7 286.6,1397.7 293.5,1402.7 300.4,1398.7 307.2,1407.4 314.1,1403.7 320.9,1408.3 327.8,1405.8 334.6,1408.3 341.5,1409.2 348.4,1410.2 355.2,1415 362.1,1415.9 368.9,1415 375.8,1418 382.6,1418.4 389.5,1419.8 396.4,1420.7 403.2,1419.4 410.1,1423.6 416.9,1424.2 423.8,1422.6 430.6,1423.8 437.5,1424.4 444.4,1426.1 451.2,1430.3 458.1,1428.4 464.9,1428.8 471.8,1429.9 478.6,1430.3 485.5,1431.6 492.3,1431.8 499.2,1432.8 506.1,1433 512.9,1433.7 519.8,1433.5 526.6,1434.9 533.5,1435.2 540.3,1436 547.2,1436 554.1,1437 560.9,1437.9 567.8,1438.5 574.6,1439.1 581.5,1439.3 588.3,1440 595.2,1440 602.1,1439.4 608.9,1441.3 615.8,1441.7 622.6,1442.3 629.5,1442.4 636.3,1442.2 643.2,1443.1 650.1,1442.4 656.9,1443.6 663.8,1444 670.6,1444.4 677.5,1444.4 684.3,1444.7 691.2,1444.8 698.1,1445.2 704.9,1445.6 711.8,1445.9 718.6,1445.4 725.5,1444.5 732.3,1443.7 739.2,1443.2 746.1,1442.9 752.9,1442.7 759.8,1442.8 766.6,1443.1 773.5,1443.2 780.3,1443.3"/>
<polyline class="c" stroke="#ff0000" points="101.5,1263.2 108.4,1312.9 115.2,1339 122.1,1358.4 128.9,1380.1 135.8,1398.7 142.6,1403.2 149.5,1407.9 156.4,1418.1 163.2,1420.6 170.1,1402.5 176.9,1436 183.8,1439 190.6,1448.5 197.5,1446 204.4,1446.5 211.2,1452.2 218.1,1453.9 224.9,1458.4 231.8,1460.9 238.6,1465.1 245.5,1465.1 252.4,1467.1 259.2,1470.8 266.1,1473.8 272.9,1473.3 279.8,1471.4 286.6,1467.1 293.5,1473.8 300.4,1478.8 307.2,1480.8 314.1,1485.8 320.9,1483.9 327.8,1481.9 334.6,1486.2 341.5,1487.1 348.4,1488.7 355.2,1490.6 362.1,1489.6 368.9,1490.9 375.8,1492.5 382.6,1494 389.5,1492.9 396.4,1496.7 403.2,1494.4 410.1,1495.9 416.9,1498.8 423.8,1498.6 430.6,1497.8 437.5,1500.3 444.4,1501.1 451.2,1500.5 458.1,1501.3 464.9,1502 471.8,1504.7 478.6,1503.7 485.5,1504.7 492.3,1505.5 499.2,1505.5 506.1,1506.6 512.9,1506.8 519.8,1507.6 526.6,1508 533.5,1509.3 540.3,1508.4 547.2,1509.5 554.1,1510.3 560.9,1511 567.8,1511.4 574.6,1512 581.5,1512.9 588.3,1512.9 595.2,1512.8 602.1,1511.8 608.9,1513.2 615.8,1514.4 622.6,1514.6 629.5,1515.2 636.3,1515.8 643.2,1516.1 650.1,1516.6 656.9,1517.2 663.8,1517.2 670.6,1517.4 677.5,1517.6 684.3,1517.8 691.2,1518 698.1,1518.2 704.9,1518.4 711.8,1518.4 718.6,1517.2 725.5,1516.4 732.3,1515.8 739.2,1515.1 746.1,1514.7 752.9,1514.4 759.8,1514.4 766.6,1514.2 773.5,1514.1 780.3,1514.2"/>
<polyline class="c" stroke="#ffa500" points="101.5,1179.6 108.4,1279.3 115.2,1319.1 122.1,1355.2 128.9,1363.9 135.8,1381.8 142.6,1384.5 149.5,1385 156.4,1395 163.2,1402.5 170.1,1406.2 176.9,1411.9 183.8,1416.9 190.6,1404.9 197.5,1422.8 204.4,1426.8 211.2,1424.3 218.1,1429.1 224.9,1433.5 231.8,1434.8 238.6,1436.5 245.5,1437.5 252.4,1438 259.2,1437.3 266.1,1439.8 272.9,1442.2 279.8,1443.5 286.6,1445.5 293.5,1447.4 300.4,1448.5 307.2,1450.9 314.1,1452.9 320.9,1451.9 327.8,1451.9 334.6,1450.9 341.5,1454.8 348.4,1454 355.2,1456.5 362.1,1458.6 368.9,1457.1 375.8,1459 382.6,1459.4 389.5,1459 396.4,1461.5 403.2,1461.8 410.1,1462.8 416.9,1464.3 423.8,1464.2 430.6,1463.6 437.5,1465.5 444.4,1466.3 451.2,1466.1 458.1,1465.7 464.9,1467 471.8,1468.6 478.6,1467.6 485.5,1469.1 492.3,1469.9 499.2,1470.5 506.1,1471.4 512.9,1469.5 519.8,1470.7 526.6,1472.4 533.5,1471.8 540.3,1472.6 547.2,1473 554.1,1472.8 560.9,1473.3 567.8,1474.5 574.6,1474.1 581.5,1474.5 588.3,1474.7 595.2,1475.2 602.1,1475.1 608.9,1475.7 615.8,1476.3 622.6,1476.6 629.5,1477 636.3,1477.3 643.2,1477.6 650.1,1477.9 656.9,1478.1 663.8,1478.3 670.6,1478.6 677.5,1478.9 684.3,1479.2 691.2,1479.5 698.1,1479.8 704.9,1480 711.8,1480.3 718.6,1480.3 725.5,1480.4 732.3,1480.5 739.2,1480.5 746.1,1480.5 752.9,1480.4 759.8,1480.5 766.6,1480.5 773.5,1480.6 780.3,1480.8"/>
<polyline class="c" stroke="#ffff00" points="101.5,1308 108.4,1367.6 115.2,1385 122.1,1401.2 128.9,1411.1 135.8,1425.6 142.6,1424.3 149.5,1432.3 156.4,1441.5 163.2,1444 170.1,1425.6 176.9,1457.2 183.8,1454.4 190.6,1458.4 197.5,1460.9 204.4,1463.4 211.2,1460.9 218.1,1461.7 224.9,1463.4 231.8,1467.6 238.6,1471.6 245.5,1472.1 252.4,1473.3 259.2,1474.6 266.1,1475.8 272.9,1476.8 279.8,1474.6 286.6,1478.8 293.5,1478.3 300.4,1481.5 307.2,1480.8 314.1,1480 320.9,1482.5 327.8,1482.9 334.6,1484.8 341.5,1485.8 348.4,1486.2 355.2,1487.7 362.1,1488.1 368.9,1486.7 375.8,1488.1 382.6,1489 389.5,1490.2 396.4,1489.2 403.2,1490.9 410.1,1491.9 416.9,1492.1 423.8,1493.4 430.6,1494.4 437.5,1494.4 444.4,1495 451.2,1495.9 458.1,1496.3 464.9,1496.3 471.8,1497.2 478.6,1496.3 485.5,1497.2 492.3,1498.6 499.2,1498.2 506.1,1498.4 512.9,1498.8 519.8,1499.5 526.6,1500.1 533.5,1500.1 540.3,1501.1 547.2,1501.4 554.1,1501.6 560.9,1502.2 567.8,1502.2 574.6,1502.4 581.5,1503 588.3,1503.4 595.2,1503.9 602.1,1503.1 608.9,1503.9 615.8,1504.3 622.6,1504.4 629.5,1504.5 636.3,1504.7 643.2,1504.9 650.1,1505.1 656.9,1505.4 663.8,1505.6 670.6,1505.7 677.5,1505.9 684.3,1505.9 691.2,1506.1 698.1,1506.3 704.9,1506.6 711.8,1506.7 718.6,1506.2 725.5,1505.9 732.3,1506.1 739.2,1506.2 746.1,1506.3 752.9,1506.4 759.8,1506.5 766.6,1506.6 773.5,1506.6 780.3,1506.7"/>
</g>
<path class="k" d="M101.5 1575v8.7M238.6 1575v8.7M375.8 1575v8.7M512.9 1575v8.7M650.1 1575v8.7M787.2 1575v8.7M67.9 1529.2h-8.7M67.9 1447h-8.7M67.9 1364.8h-8.7M67.9 1282.6h-8.7M67.9 1200.3h-8.7M67.9 1118.1h-8.7M67.9 1035.9h-8.7M67.9 953.7h-8.7"/>
<rect class="k" x="67.9" y="874" width="746.4" height="701"/>
<text class="t" text-anchor="middle" transform="translate(101.5 1610.1) scale(1 1.07)">0</text>
<text class="t" text-anchor="middle" transform="translate(238.6 1610.1) scale(1 1.07)">20</text>
<text class="t" text-anchor="middle" transform="translate(375.8 1610.1) scale(1 1.07)">40</text>
<text class="t" text-anchor="middle" transform="translate(512.9 1610.1) scale(1 1.07)">60</text>
<text class="t" text-anchor="middle" transform="translate(650.1 1610.1) scale(1 1.07)">80</text>
<text class="t" text-anchor="middle" transform="translate(787.2 1610.1) scale(1 1.07)">100</text>
<text class="t" text-anchor="end" transform="translate(51.4 1538.4) scale(1 1.07)">0.25</text>
<text class="t" text-anchor="end" transform="translate(51.4 1456.2) scale(1 1.07)">0.50</text>
<text class="t" text-anchor="end" transform="translate(51.4 1374) scale(1 1.07)">0.75</text>
<text class="t" text-anchor="end" transform="translate(51.4 1291.8) scale(1 1.07)">1.00</text>
<text class="t" text-anchor="end" transform="translate(51.4 1209.5) scale(1 1.07)">1.25</text>
<text class="t" text-anchor="end" transform="translate(51.4 1127.3) scale(1 1.07)">1.50</text>
<text class="t" text-anchor="end" transform="translate(51.4 1045.1) scale(1 1.07)">1.75</text>
<text class="t" text-anchor="end" transform="translate(51.4 962.9) scale(1 1.07)">2.00</text>
<text class="t" text-anchor="middle" x="441.1" y="1642.1">epoch</text>
<text class="T" text-anchor="middle" x="441.1" y="859.8">val/box_loss</text>
<rect x="621" y="886" width="181.4" height="215.5" rx="4.7" ry="4.7" fill="#ffffff" fill-opacity="0.8" stroke="#cccccc" stroke-opacity="0.8" stroke-width="2.36"/>
<path class="l" stroke="#000000" d="M630.8 905.1h47.2"/>
<text class="t" x="697" y="913.6">FWNWD</text>
<path class="l" stroke="#008000" d="M630.8 939.9h47.2"/>
<text class="t" x="697" y="948.4">CIoU</text>
<path class="l" stroke="#0000ff" d="M630.8 974.7h47.2"/>
<text class="t" x="697" y="983.2">WIoU</text>
<path class="l" stroke="#ff0000" d="M630.8 1009.4h47.2"/>
<text class="t" x="697" y="1017.9">FWIoU</text>
<path class="l" stroke="#ffa500" d="M630.8 1044.2h47.2"/>
<text class="t" x="697" y="1052.7">NWD</text>
<path class="l" stroke="#ffff00" d="M630.8 1079h47.2"/>
<text class="t" x="697" y="1087.5">WNWD</text>
</g>
<g>
<clipPath id="c11"><rect x="910.1" y="874" width="746.4" height="701"/></clipPath>
<g clip-path="url(#c11)">
<polyline class="c" stroke="#000000" points="943.9,948.4 950.8,1198.4 957.6,1285.9 964.5,1327 971.3,1357.4 978.2,1381.7 985,1385.3 991.9,1397.2 998.8,1415.1 1005.6,1407 1012.5,1420.2 1019.3,1438.6 1026.2,1440.9 1033,1446.9 1039.9,1450.2 1046.8,1454.2 1053.6,1454.8 1060.5,1456.2 1067.3,1460.1 1074.2,1465.4 1081,1467.1 1087.9,1466.4 1094.8,1472.7 1101.6,1476.7 1108.5,1480 1115.3,1482 1122.2,1483.3 1129,1484.7 1135.9,1486.7 1142.8,1486.5 1149.6,1487.4 1156.5,1491.1 1163.3,1491.5 1170.2,1492.5 1177,1498.3 1183.9,1500.7 1190.8,1499.2 1197.6,1501.8 1204.5,1503.3 1211.3,1503.2 1218.2,1505.3 1225,1506.4 1231.9,1508 1238.8,1510.2 1245.6,1509.1 1252.5,1508.2 1259.3,1511.4 1266.2,1514.1 1273,1515.1 1279.9,1514.5 1286.8,1517.1 1293.6,1518.5 1300.5,1517 1307.3,1520.5 1314.2,1519.3 1321,1519.6 1327.9,1518.9 1334.7,1519.6 1341.6,1520.9 1348.5,1521.8 1355.3,1523.2 1362.2,1523.5 1369,1524.4 1375.9,1525.1 1382.7,1525.1 1389.6,1526.2 1396.5,1527.1 1403.3,1527.8 1410.2,1528.3 1417,1529 1423.9,1529.6 1430.7,1530 1437.6,1530.4 1444.5,1530.4 1451.3,1531.4 1458.2,1532 1465,1532.3 1471.9,1532.5 1478.7,1533.1 1485.6,1533.7 1492.5,1534.2 1499.3,1534.6 1506.2,1535.1 1513,1535.5 1519.9,1536 1526.7,1536.4 1533.6,1536.8 1540.5,1537.2 1547.3,1537.4 1554.2,1537.6 1561,1540 1567.9,1540 1574.7,1540 1581.6,1540 1588.5,1540 1595.3,1540 1602.2,1540 1609,1540 1615.9,1540 1622.7,1540"/>
<polyline class="c" stroke="#008000" points="943.9,906 950.8,1177.2 957.6,1260.7 964.5,1311 971.3,1344.8 978.2,1361.1 985,1376 991.9,1390.4 998.8,1411.8 1005.6,1419.1 1012.5,1417.1 1019.3,1423.6 1026.2,1431.7 1033,1438.6 1039.9,1447.5 1046.8,1452.2 1053.6,1454.2 1060.5,1455.5 1067.3,1459.5 1074.2,1464.1 1081,1467.1 1087.9,1470.1 1094.8,1474 1101.6,1477.4 1108.5,1480 1115.3,1481.3 1122.2,1482 1129,1484 1135.9,1488.1 1142.8,1487 1149.6,1492.6 1156.5,1493.1 1163.3,1491.8 1170.2,1494.5 1177,1497.4 1183.9,1499.9 1190.8,1499.7 1197.6,1501.1 1204.5,1505.8 1211.3,1501.2 1218.2,1502.8 1225,1505.6 1231.9,1508.6 1238.8,1508.4 1245.6,1511.6 1252.5,1510.9 1259.3,1510.6 1266.2,1514.6 1273,1515.4 1279.9,1516.8 1286.8,1518.6 1293.6,1516.5 1300.5,1519 1307.3,1520.2 1314.2,1520 1321,1522 1327.9,1520.3 1334.7,1523.4 1341.6,1522 1348.5,1522.4 1355.3,1527.1 1362.2,1528.2 1369,1529 1375.9,1530 1382.7,1529.2 1389.6,1530.9 1396.5,1531.8 1403.3,1532.4 1410.2,1533.1 1417,1533.7 1423.9,1534.5 1430.7,1534.9 1437.6,1535.3 1444.5,1534.9 1451.3,1536.2 1458.2,1536.7 1465,1537.1 1471.9,1537.5 1478.7,1538 1485.6,1538.5 1492.5,1538.9 1499.3,1539.4 1506.2,1539.8 1513,1540.3 1519.9,1540.7 1526.7,1541.1 1533.6,1541.6 1540.5,1542 1547.3,1542.1 1554.2,1542.3 1561,1542.4 1567.9,1542.5 1574.7,1542.6 1581.6,1542.7 1588.5,1542.8 1595.3,1542.9 1602.2,1543 1609,1543.1 1615.9,1543.3 1622.7,1543.4"/>
<polyline class="c" stroke="#0000ff" points="943.9,906.3 950.8,1185.2 957.6,1282.6 964.5,1315.7 971.3,1345.5 978.2,1369.7 985,1389.2 991.9,1397.2 998.8,1414.4 1005.6,1418.4 1012.5,1419.1 1019.3,1436.9 1026.2,1439.6 1033,1446.2 1039.9,1447.5 1046.8,1447.7 1053.6,1458.1 1060.5,1456.8 1067.3,1460.8 1074.2,1466.1 1081,1470.1 1087.9,1471.4 1094.8,1468.4 1101.6,1481.1 1108.5,1482 1115.3,1483.3 1122.2,1487.3 1129,1484.7 1135.9,1488.1 1142.8,1490.1 1149.6,1491.1 1156.5,1494.9 1163.3,1494 1170.2,1495.1 1177,1499.1 1183.9,1499.9 1190.8,1499.7 1197.6,1503.2 1204.5,1505.6 1211.3,1502.1 1218.2,1503.6 1225,1507.6 1231.9,1505.9 1238.8,1511.7 1245.6,1509.7 1252.5,1511.6 1259.3,1514 1266.2,1512.6 1273,1514.4 1279.9,1513 1286.8,1516.4 1293.6,1521.8 1300.5,1518.7 1307.3,1517.6 1314.2,1521.2 1321,1522.9 1327.9,1522.8 1334.7,1524.4 1341.6,1520.5 1348.5,1521.6 1355.3,1523.7 1362.2,1525 1369,1525.6 1375.9,1527.4 1382.7,1526.9 1389.6,1527.8 1396.5,1529 1403.3,1530.6 1410.2,1531.3 1417,1532 1423.9,1532.8 1430.7,1533.2 1437.6,1533.5 1444.5,1533.1 1451.3,1534.4 1458.2,1534.9 1465,1535.3 1471.9,1535.7 1478.7,1536.2 1485.6,1536.7 1492.5,1537.1 1499.3,1537.6 1506.2,1538.1 1513,1538.5 1519.9,1538.9 1526.7,1539.3 1533.6,1539.8 1540.5,1540.2 1547.3,1540.3 1554.2,1540.6 1561,1540.7 1567.9,1540.7 1574.7,1540.7 1581.6,1540.8 1588.5,1540.8 1595.3,1540.8 1602.2,1540.9 1609,1540.9 1615.9,1540.9 1622.7,1541"/>
<polyline class="c" stroke="#ff0000" points="943.9,964.3 950.8,1203.7 957.6,1283.2 964.5,1323 971.3,1352.1 978.2,1380 985,1388 991.9,1401.8 998.8,1413.3 1005.6,1417.3 1012.5,1404.1 1019.3,1436.3 1026.2,1439.7 1033,1450.1 1039.9,1450.1 1046.8,1452.9 1053.6,1456.4 1060.5,1458.7 1067.3,1464.4 1074.2,1467.8 1081,1471.9 1087.9,1473.6 1094.8,1477.6 1101.6,1479.9 1108.5,1485 1115.3,1485 1122.2,1483.3 1129,1479.9 1135.9,1487.3 1142.8,1490 1149.6,1492.6 1156.5,1495.3 1163.3,1496.6 1170.2,1496 1177,1501.3 1183.9,1500.4 1190.8,1503.1 1197.6,1505.9 1204.5,1505.7 1211.3,1505.3 1218.2,1508 1225,1509.7 1231.9,1509.7 1238.8,1513.5 1245.6,1511.9 1252.5,1512.7 1259.3,1516.3 1266.2,1515.7 1273,1515.5 1279.9,1517.1 1286.8,1518.2 1293.6,1519.6 1300.5,1519.2 1307.3,1521.2 1314.2,1523 1321,1522.6 1327.9,1523.7 1334.7,1523.9 1341.6,1525 1348.5,1526.1 1355.3,1526.1 1362.2,1527.2 1369,1528.1 1375.9,1529 1382.7,1528.3 1389.6,1529.9 1396.5,1530.8 1403.3,1531.4 1410.2,1532.1 1417,1532.8 1423.9,1533.6 1430.7,1533.9 1437.6,1534.3 1444.5,1533.9 1451.3,1535.2 1458.2,1535.7 1465,1536.1 1471.9,1536.5 1478.7,1537 1485.6,1537.5 1492.5,1537.9 1499.3,1538.4 1506.2,1538.9 1513,1539.3 1519.9,1539.7 1526.7,1540.1 1533.6,1540.6 1540.5,1541 1547.3,1541.1 1554.2,1541.2 1561,1539.8 1567.9,1539.3 1574.7,1539.1 1581.6,1539 1588.5,1538.9 1595.3,1538.8 1602.2,1538.7 1609,1538.7 1615.9,1538.7 1622.7,1538.7"/>
<polyline class="c" stroke="#ffa500" points="943.9,949.2 950.8,1191.8 957.6,1274.6 964.5,1327 971.3,1350.8 978.2,1377.3 985,1382.6 991.9,1393.9 998.8,1411.1 1005.6,1413.3 1012.5,1420.2 1019.3,1434.3 1026.2,1434.6 1033,1427.7 1039.9,1446.6 1046.8,1452.2 1053.6,1450.2 1060.5,1451.5 1067.3,1457.5 1074.2,1462.8 1081,1466.8 1087.9,1468.7 1094.8,1471.4 1101.6,1470.7 1108.5,1477.4 1115.3,1478.7 1122.2,1478 1129,1482.7 1135.9,1484.6 1142.8,1488.6 1149.6,1488.4 1156.5,1488.7 1163.3,1492 1170.2,1495 1177,1497.2 1183.9,1497.4 1190.8,1498.4 1197.6,1499.7 1204.5,1501.5 1211.3,1499.4 1218.2,1503.5 1225,1504 1231.9,1504.3 1238.8,1508.1 1245.6,1507.9 1252.5,1508.8 1259.3,1509 1266.2,1512.6 1273,1513 1279.9,1512.3 1286.8,1512.5 1293.6,1516.1 1300.5,1515.5 1307.3,1518.2 1314.2,1517.3 1321,1518.3 1327.9,1516.4 1334.7,1519.7 1341.6,1519 1348.5,1521.5 1355.3,1520.9 1362.2,1522.1 1369,1523.3 1375.9,1523.6 1382.7,1524.5 1389.6,1525 1396.5,1525.9 1403.3,1526.7 1410.2,1527.1 1417,1527.7 1423.9,1528.3 1430.7,1528.6 1437.6,1529 1444.5,1529.4 1451.3,1530 1458.2,1530.7 1465,1530.9 1471.9,1531 1478.7,1531.7 1485.6,1532.4 1492.5,1533 1499.3,1533.4 1506.2,1533.9 1513,1534.3 1519.9,1534.7 1526.7,1535.1 1533.6,1535.5 1540.5,1535.9 1547.3,1536.2 1554.2,1536.5 1561,1535.9 1567.9,1535.7 1574.7,1536.1 1581.6,1536.5 1588.5,1536.7 1595.3,1537 1602.2,1537.1 1609,1537.3 1615.9,1537.5 1622.7,1537.6"/>
<polyline class="c" stroke="#ffff00" points="943.9,931.8 950.8,1186.2 957.6,1268.4 964.5,1315.7 971.3,1346.8 978.2,1375.5 985,1381.2 991.9,1392.7 998.8,1413.3 1005.6,1417.3 1012.5,1393.2 1019.3,1435.7 1026.2,1437.4 1033,1444.9 1039.9,1448.3 1046.8,1453.5 1053.6,1450.6 1060.5,1452.3 1067.3,1458.1 1074.2,1463.8 1081,1467.8 1087.9,1469.5 1094.8,1472.5 1101.6,1475.3 1108.5,1478.2 1115.3,1479.4 1122.2,1477 1129,1483.3 1135.9,1484.9 1142.8,1487.6 1149.6,1487.2 1156.5,1488.8 1163.3,1490.6 1170.2,1492.5 1177,1494.1 1183.9,1496.6 1190.8,1496.9 1197.6,1498.4 1204.5,1499.6 1211.3,1498.2 1218.2,1501.5 1225,1502.8 1231.9,1503.9 1238.8,1504.6 1245.6,1505.9 1252.5,1507.5 1259.3,1507.5 1266.2,1510.2 1273,1512.4 1279.9,1511.4 1286.8,1512.7 1293.6,1514.3 1300.5,1514.9 1307.3,1515.5 1314.2,1515.4 1321,1515.2 1327.9,1516.3 1334.7,1517.9 1341.6,1518.8 1348.5,1519.6 1355.3,1519.8 1362.2,1520.3 1369,1521.4 1375.9,1521.8 1382.7,1522.6 1389.6,1523.1 1396.5,1524 1403.3,1524.8 1410.2,1525.3 1417,1525.9 1423.9,1526.4 1430.7,1526.7 1437.6,1527.1 1444.5,1527.5 1451.3,1528.2 1458.2,1528.8 1465,1529 1471.9,1529.2 1478.7,1529.8 1485.6,1530.5 1492.5,1531.1 1499.3,1531.6 1506.2,1532 1513,1532.4 1519.9,1532.9 1526.7,1533.3 1533.6,1533.7 1540.5,1534.1 1547.3,1534.3 1554.2,1534.6 1561,1534.1 1567.9,1533.9 1574.7,1534.3 1581.6,1534.6 1588.5,1534.9 1595.3,1535.1 1602.2,1535.3 1609,1535.5 1615.9,1535.6 1622.7,1535.7"/>
</g>
<path class="k" d="M943.9 1575v8.7M1081 1575v8.7M1218.2 1575v8.7M1355.3 1575v8.7M1492.5 1575v8.7M1629.6 1575v8.7M910.1 1476.7h-8.7M910.1 1344.2h-8.7M910.1 1211.7h-8.7M910.1 1079.1h-8.7M910.1 946.6h-8.7"/>
<rect class="k" x="910.1" y="874" width="746.4" height="701"/>
<text class="t" text-anchor="middle" transform="translate(943.9 1610.1) scale(1 1.07)">0</text>
<text class="t" text-anchor="middle" transform="translate(1081 1610.1) scale(1 1.07)">20</text>
<text class="t" text-anchor="middle" transform="translate(1218.2 1610.1) scale(1 1.07)">40</text>
<text class="t" text-anchor="middle" transform="translate(1355.3 1610.1) scale(1 1.07)">60</text>
<text class="t" text-anchor="middle" transform="translate(1492.5 1610.1) scale(1 1.07)">80</text>
<text class="t" text-anchor="middle" transform="translate(1629.6 1610.1) scale(1 1.07)">100</text>
<text class="t" text-anchor="end" transform="translate(893.6 1485.9) scale(1 1.07)">1.0</text>
<text class="t" text-anchor="end" transform="translate(893.6 1353.4) scale(1 1.07)">1.2</text>
<text class="t" text-anchor="end" transform="translate(893.6 1220.9) scale(1 1.07)">1.4</text>
<text class="t" text-anchor="end" transform="translate(893.6 1088.3) scale(1 1.07)">1.6</text>
<text class="t" text-anchor="end" transform="translate(893.6 955.8) scale(1 1.07)">1.8</text>
<text class="t" text-anchor="middle" x="1283.3" y="1642.1">epoch</text>
<text class="T" text-anchor="middle" x="1283.3" y="859.8">val/dfl_loss</text>
<rect x="1463.4" y="886" width="181.4" height="215.5" rx="4.7" ry="4.7" fill="#ffffff" fill-opacity="0.8" stroke="#cccccc" stroke-opacity="0.8" stroke-width="2.36"/>
<path class="l" stroke="#000000" d="M1473.2 905.1h47.2"/>
<text class="t" x="1539.4" y="913.6">FWNWD</text>
<path class="l" stroke="#008000" d="M1473.2 939.9h47.2"/>
<text class="t" x="1539.4" y="948.4">CIoU</text>
<path class="l" stroke="#0000ff" d="M1473.2 974.7h47.2"/>
<text class="t" x="1539.4" y="983.2">WIoU</text>
<path class="l" stroke="#ff0000" d="M1473.2 1009.4h47.2"/>
<text class="t" x="1539.4" y="1017.9">FWIoU</text>
<path class="l" stroke="#ffa500" d="M1473.2 1044.2h47.2"/>
<text class="t" x="1539.4" y="1052.7">NWD</text>
<path class="l" stroke="#ffff00" d="M1473.2 1079h47.2"/>
<text class="t" x="1539.4" y="1087.5">WNWD</text>
</g>
<g>
<clipPath id="c21"><rect x="1752.5" y="874" width="746.4" height="701"/></clipPath>
<g clip-path="url(#c21)">
<polyline class="c" stroke="#000000" points="1786.2,942 1793,1114.2 1799.9,1221.5 1806.7,1284.4 1813.6,1328.9 1820.4,1358.5 1827.3,1372.9 1834.1,1378.4 1841,1395.5 1847.9,1402.9 1854.7,1411.2 1861.6,1424.3 1868.4,1427.7 1875.3,1435.4 1882.1,1434.3 1889,1441.8 1895.9,1444.3 1902.7,1446.9 1909.6,1453.2 1916.4,1458.4 1923.3,1461 1930.1,1461.4 1937,1465.5 1943.9,1468.3 1950.7,1471 1957.6,1471.7 1964.4,1473 1971.3,1476.8 1978.1,1480.8 1985,1481.1 1991.9,1485.8 1998.7,1486.3 2005.6,1485.5 2012.4,1489.1 2019.3,1490.1 2026.1,1494.1 2033,1495.3 2039.9,1497.8 2046.7,1496.7 2053.6,1496.1 2060.4,1501 2067.3,1501.1 2074.1,1501.8 2081,1505.9 2087.9,1504.8 2094.7,1505.1 2101.6,1506.4 2108.4,1509.8 2115.3,1512 2122.1,1511.2 2129,1514.4 2135.9,1513.4 2142.7,1516.3 2149.6,1515.7 2156.4,1516.6 2163.3,1518.1 2170.1,1517.2 2177,1519.1 2183.9,1518.9 2190.7,1521.2 2197.6,1521.5 2204.4,1522.6 2211.3,1524.1 2218.1,1524.6 2225,1525.8 2231.9,1526.4 2238.7,1526.8 2245.6,1527.6 2252.4,1528.5 2259.3,1528.9 2266.1,1529.6 2273,1530.2 2279.9,1531.3 2286.7,1530.4 2293.6,1531.5 2300.4,1532.9 2307.3,1533.2 2314.1,1533.6 2321,1533.9 2327.9,1534.5 2334.7,1534.9 2341.6,1536.1 2348.4,1536.5 2355.3,1536.9 2362.1,1537.4 2369,1537.9 2375.9,1538.3 2382.7,1539.2 2389.6,1539 2396.4,1539.4 2403.3,1539.1 2410.1,1538.8 2417,1539.2 2423.9,1539.4 2430.7,1539.7 2437.6,1540.4 2444.4,1541 2451.3,1540.9 2458.1,1541.6 2465,1541.1"/>
<polyline class="c" stroke="#008000" points="1786.2,923.5 1793,1069.8 1799.9,1180.8 1806.7,1258.5 1813.6,1310.3 1820.4,1333.4 1827.3,1341 1834.1,1360.8 1841,1378 1847.9,1390.8 1854.7,1395.9 1861.6,1402.2 1868.4,1412.5 1875.3,1416.3 1882.1,1424.6 1889,1424.6 1895.9,1434.1 1902.7,1436 1909.6,1443.1 1916.4,1444.6 1923.3,1446.2 1930.1,1451.4 1937,1455.8 1943.9,1460.9 1950.7,1462.8 1957.6,1459.6 1964.4,1465.4 1971.3,1469.2 1978.1,1471.1 1985,1473.7 1991.9,1476.6 1998.7,1478 2005.6,1478.8 2012.4,1481.8 2019.3,1483.7 2026.1,1484.8 2033,1487.7 2039.9,1489.5 2046.7,1489 2053.6,1490.5 2060.4,1493.2 2067.3,1495 2074.1,1496 2081,1497.9 2087.9,1497.1 2094.7,1499 2101.6,1501.2 2108.4,1502.8 2115.3,1502.6 2122.1,1504.8 2129,1505.9 2135.9,1506.6 2142.7,1506.9 2149.6,1508.8 2156.4,1509.9 2163.3,1510.7 2170.1,1512.1 2177,1513.4 2183.9,1514.3 2190.7,1514.8 2197.6,1515.4 2204.4,1516.5 2211.3,1517.6 2218.1,1518.1 2225,1518.7 2231.9,1519.7 2238.7,1520.5 2245.6,1520.9 2252.4,1522.2 2259.3,1522.2 2266.1,1523.7 2273,1524.6 2279.9,1525.4 2286.7,1525.1 2293.6,1526.5 2300.4,1527.5 2307.3,1528 2314.1,1528.4 2321,1529 2327.9,1529.5 2334.7,1530 2341.6,1530.5 2348.4,1531 2355.3,1531.5 2362.1,1532 2369,1532.6 2375.9,1533.1 2382.7,1533.7 2389.6,1533.9 2396.4,1534.2 2403.3,1534.6 2410.1,1534.9 2417,1535.1 2423.9,1535.3 2430.7,1535.6 2437.6,1535.8 2444.4,1536.1 2451.3,1536.3 2458.1,1536.6 2465,1536.8"/>
<polyline class="c" stroke="#0000ff" points="1786.2,905.9 1793,1082.7 1799.9,1191.9 1806.7,1267.8 1813.6,1317.7 1820.4,1341 1827.3,1355.1 1834.1,1362.7 1841,1376.7 1847.9,1394.6 1854.7,1404.8 1861.6,1417.6 1868.4,1423.3 1875.3,1429 1882.1,1428.4 1889,1434.1 1895.9,1441.8 1902.7,1443.1 1909.6,1449.4 1916.4,1450.7 1923.3,1455.8 1930.1,1460.9 1937,1465.4 1943.9,1467.3 1950.7,1468.6 1957.6,1471.1 1964.4,1475 1971.3,1474.6 1978.1,1476.9 1985,1482.2 1991.9,1484.7 1998.7,1485.8 2005.6,1483.6 2012.4,1487.4 2019.3,1491.3 2026.1,1491.9 2033,1494.9 2039.9,1495.6 2046.7,1495.4 2053.6,1494.1 2060.4,1499.4 2067.3,1499.4 2074.1,1500.2 2081,1502.4 2087.9,1504.6 2094.7,1504.6 2101.6,1505.6 2108.4,1508.8 2115.3,1508 2122.1,1509.9 2129,1511.2 2135.9,1512.4 2142.7,1515.2 2149.6,1514.6 2156.4,1516.8 2163.3,1516.5 2170.1,1515.7 2177,1518.8 2183.9,1518.3 2190.7,1519.5 2197.6,1520.4 2204.4,1521.4 2211.3,1522.3 2218.1,1522.7 2225,1523.3 2231.9,1524.2 2238.7,1525 2245.6,1525.5 2252.4,1526.1 2259.3,1526.7 2266.1,1527.3 2273,1528.1 2279.9,1528.9 2286.7,1528.4 2293.6,1529.8 2300.4,1530.9 2307.3,1531.3 2314.1,1531.7 2321,1532.2 2327.9,1532.8 2334.7,1533.3 2341.6,1533.8 2348.4,1534.3 2355.3,1534.8 2362.1,1535.4 2369,1535.9 2375.9,1536.5 2382.7,1537.1 2389.6,1537.3 2396.4,1538.1 2403.3,1538.2 2410.1,1538.3 2417,1538.4 2423.9,1538.5 2430.7,1538.6 2437.6,1538.7 2444.4,1538.7 2451.3,1538.8 2458.1,1538.9 2465,1539"/>
<polyline class="c" stroke="#ff0000" points="1786.2,921 1793,1092 1799.9,1199.3 1806.7,1273.3 1813.6,1321.4 1820.4,1351.1 1827.3,1361.4 1834.1,1365.3 1841,1384.4 1847.9,1395.8 1854.7,1389.5 1861.6,1412.5 1868.4,1422 1875.3,1426.5 1882.1,1431.6 1889,1429.7 1895.9,1439.2 1902.7,1438.6 1909.6,1446.2 1916.4,1451.4 1923.3,1453.9 1930.1,1453.2 1937,1459.6 1943.9,1464.8 1950.7,1467.9 1957.6,1467.3 1964.4,1468.6 1971.3,1471.1 1978.1,1474.3 1985,1478.8 1991.9,1480.8 1998.7,1483.1 2005.6,1482.1 2012.4,1484.8 2019.3,1486.4 2026.1,1489.2 2033,1489.7 2039.9,1492.4 2046.7,1491.9 2053.6,1493.2 2060.4,1496.2 2067.3,1497.9 2074.1,1498.4 2081,1501.7 2087.9,1499.9 2094.7,1501.2 2101.6,1505 2108.4,1505.2 2115.3,1505 2122.1,1507.7 2129,1508.8 2135.9,1509.4 2142.7,1510.2 2149.6,1510.5 2156.4,1513.4 2163.3,1513.2 2170.1,1515.4 2177,1516.5 2183.9,1517 2190.7,1517.3 2197.6,1518.1 2204.4,1519.4 2211.3,1520.5 2218.1,1520.8 2225,1521.4 2231.9,1522.5 2238.7,1523.2 2245.6,1523.4 2252.4,1523.9 2259.3,1524.4 2266.1,1525 2273,1525.9 2279.9,1526.7 2286.7,1526.4 2293.6,1527.8 2300.4,1528.8 2307.3,1529.3 2314.1,1529.7 2321,1530.3 2327.9,1530.8 2334.7,1531.3 2341.6,1531.8 2348.4,1532.3 2355.3,1532.8 2362.1,1533.3 2369,1533.8 2375.9,1534.4 2382.7,1535 2389.6,1535.2 2396.4,1535.5 2403.3,1534.6 2410.1,1534.5 2417,1534.4 2423.9,1534.4 2430.7,1534.4 2437.6,1534.4 2444.4,1534.5 2451.3,1534.6 2458.1,1534.6 2465,1534.6"/>
<polyline class="c" stroke="#ffa500" points="1786.2,941.3 1793,1099.4 1799.9,1203 1806.7,1277 1813.6,1325.1 1820.4,1349.9 1827.3,1356.3 1834.1,1371.6 1841,1386.9 1847.9,1393.3 1854.7,1404.8 1861.6,1412.5 1868.4,1419.5 1875.3,1418.8 1882.1,1430.3 1889,1436.7 1895.9,1440.5 1902.7,1440.5 1909.6,1448.2 1916.4,1452 1923.3,1455.8 1930.1,1459.6 1937,1462.8 1943.9,1462.2 1950.7,1467.3 1957.6,1469.9 1964.4,1471.7 1971.3,1476.2 1978.1,1478.1 1985,1481.3 1991.9,1483.3 1998.7,1485 2005.6,1484.2 2012.4,1488.3 2019.3,1489.9 2026.1,1492.3 2033,1493.6 2039.9,1495.8 2046.7,1496 2053.6,1495.6 2060.4,1498.8 2067.3,1500.5 2074.1,1501.5 2081,1503.8 2087.9,1503.5 2094.7,1504.8 2101.6,1507.2 2108.4,1508.9 2115.3,1509.3 2122.1,1510.3 2129,1512.4 2135.9,1512.8 2142.7,1514.3 2149.6,1513.8 2156.4,1516 2163.3,1516.2 2170.1,1517.3 2177,1519.6 2183.9,1519.6 2190.7,1520.2 2197.6,1521 2204.4,1522.2 2211.3,1523.5 2218.1,1524 2225,1524.8 2231.9,1525.5 2238.7,1526.3 2245.6,1527.1 2252.4,1527.9 2259.3,1528.6 2266.1,1529.4 2273,1530.2 2279.9,1531 2286.7,1530.2 2293.6,1531.7 2300.4,1533 2307.3,1533.4 2314.1,1533.7 2321,1534.3 2327.9,1534.8 2334.7,1535.4 2341.6,1535.9 2348.4,1536.5 2355.3,1537 2362.1,1537.6 2369,1538.2 2375.9,1538.8 2382.7,1539.5 2389.6,1539.7 2396.4,1539.9 2403.3,1539.2 2410.1,1539.3 2417,1539.7 2423.9,1540.1 2430.7,1540.5 2437.6,1540.9 2444.4,1541.3 2451.3,1541.7 2458.1,1542 2465,1542.2"/>
<polyline class="c" stroke="#ffff00" points="1786.2,928.7 1793,1085.3 1799.9,1195.4 1806.7,1271.9 1813.6,1320.6 1820.4,1355.1 1827.3,1371.6 1834.1,1376.7 1841,1394.6 1847.9,1401 1854.7,1397.1 1861.6,1423.9 1868.4,1425.9 1875.3,1435.4 1882.1,1431 1889,1445 1895.9,1443.7 1902.7,1446.2 1909.6,1452.6 1916.4,1455.8 1923.3,1460.3 1930.1,1464.8 1937,1467.3 1943.9,1469.2 1950.7,1471.1 1957.6,1472.2 1964.4,1473.7 1971.3,1479.4 1978.1,1482 1985,1483.9 1991.9,1485.4 1998.7,1486.5 2005.6,1485.9 2012.4,1491.1 2019.3,1492.7 2026.1,1494.6 2033,1496.5 2039.9,1498.2 2046.7,1499 2053.6,1497.4 2060.4,1500.6 2067.3,1502.3 2074.1,1503.7 2081,1505.2 2087.9,1505.9 2094.7,1507.2 2101.6,1508.6 2108.4,1511.2 2115.3,1512.1 2122.1,1511.9 2129,1514.6 2135.9,1514.8 2142.7,1516.8 2149.6,1515.7 2156.4,1517.6 2163.3,1517.9 2170.1,1518.5 2177,1521.4 2183.9,1521 2190.7,1521.7 2197.6,1522.5 2204.4,1523.6 2211.3,1525 2218.1,1525.5 2225,1526.3 2231.9,1526.9 2238.7,1527.6 2245.6,1528.6 2252.4,1529.3 2259.3,1530.1 2266.1,1530.8 2273,1531.5 2279.9,1532.2 2286.7,1531.3 2293.6,1532.8 2300.4,1534.1 2307.3,1534.4 2314.1,1534.6 2321,1535.2 2327.9,1535.7 2334.7,1536.3 2341.6,1536.8 2348.4,1537.4 2355.3,1537.9 2362.1,1538.4 2369,1539 2375.9,1539.6 2382.7,1540.3 2389.6,1540.5 2396.4,1540.6 2403.3,1539.9 2410.1,1540 2417,1540.5 2423.9,1541 2430.7,1541.4 2437.6,1541.7 2444.4,1542.2 2451.3,1542.6 2458.1,1542.8 2465,1543"/>
</g>
<path class="k" d="M1786.2 1575v8.7M1923.3 1575v8.7M2060.4 1575v8.7M2197.6 1575v8.7M2334.7 1575v8.7M2471.9 1575v8.7M1752.5 1513.9h-8.7M1752.5 1421.4h-8.7M1752.5 1328.9h-8.7M1752.5 1236.3h-8.7M1752.5 1143.8h-8.7M1752.5 1051.3h-8.7M1752.5 958.8h-8.7"/>
<rect class="k" x="1752.5" y="874" width="746.4" height="701"/>
<text class="t" text-anchor="middle" transform="translate(1786.2 1610.1) scale(1 1.07)">0</text>
<text class="t" text-anchor="middle" transform="translate(1923.3 1610.1) scale(1 1.07)">20</text>
<text class="t" text-anchor="middle" transform="translate(2060.4 1610.1) scale(1 1.07)">40</text>
<text class="t" text-anchor="middle" transform="translate(2197.6 1610.1) scale(1 1.07)">60</text>
<text class="t" text-anchor="middle" transform="translate(2334.7 1610.1) scale(1 1.07)">80</text>
<text class="t" text-anchor="middle" transform="translate(2471.9 1610.1) scale(1 1.07)">100</text>
<text class="t" text-anchor="end" transform="translate(1736 1523.1) scale(1 1.07)">0.50</text>
<text class="t" text-anchor="end" transform="translate(1736 1430.6) scale(1 1.07)">0.75</text>
<text class="t" text-anchor="end" transform="translate(1736 1338.1) scale(1 1.07)">1.00</text>
<text class="t" text-anchor="end" transform="translate(1736 1245.5) scale(1 1.07)">1.25</text>
<text class="t" text-anchor="end" transform="translate(1736 1153) scale(1 1.07)">1.50</text>
<text class="t" text-anchor="end" transform="translate(1736 1060.5) scale(1 1.07)">1.75</text>
<text class="t" text-anchor="end" transform="translate(1736 968) scale(1 1.07)">2.00</text>
<text class="t" text-anchor="middle" x="2125.7" y="1642.1">epoch</text>
<text class="T" text-anchor="middle" x="2125.7" y="859.8">val/cls_loss</text>
<rect x="2305.7" y="886" width="181.4" height="215.5" rx="4.7" ry="4.7" fill="#ffffff" fill-opacity="0.8" stroke="#cccccc" stroke-opacity="0.8" stroke-width="2.36"/>
<path class="l" stroke="#000000" d="M2315.5 905.1h47.2"/>
<text class="t" x="2381.7" y="913.6">FWNWD</text>
<path class="l" stroke="#008000" d="M2315.5 939.9h47.2"/>
<text class="t" x="2381.7" y="948.4">CIoU</text>
<path class="l" stroke="#0000ff" d="M2315.5 974.7h47.2"/>
<text class="t" x="2381.7" y="983.2">WIoU</text>
<path class="l" stroke="#ff0000" d="M2315.5 1009.4h47.2"/>
<text class="t" x="2381.7" y="1017.9">FWIoU</text>
<path class="l" stroke="#ffa500" d="M2315.5 1044.2h47.2"/>
<text class="t" x="2381.7" y="1052.7">NWD</text>
<path class="l" stroke="#ffff00" d="M2315.5 1079h47.2"/>
<text class="t" x="2381.7" y="1087.5">WNWD</text>
</g>
</svg></body></html>
